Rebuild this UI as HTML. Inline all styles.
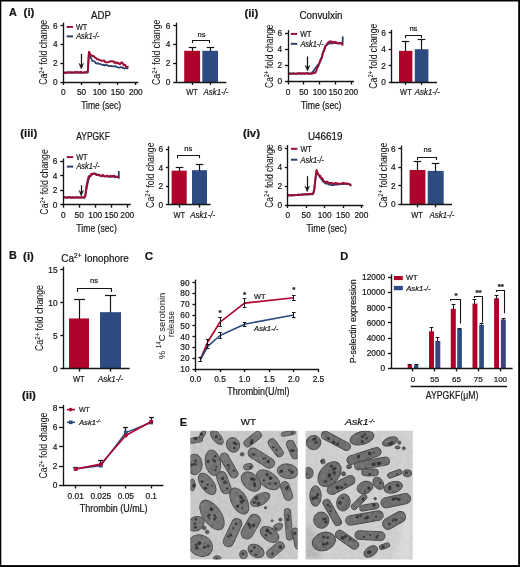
<!DOCTYPE html>
<html><head><meta charset="utf-8"><style>
html,body{margin:0;padding:0;background:#fff;}
body{width:520px;height:567px;overflow:hidden;}
svg{display:block;will-change:transform;font-family:"Liberation Sans", sans-serif;}
text{stroke:#161616;stroke-width:0.2px;}
</style></head><body>
<svg width="520" height="567" viewBox="0 0 520 567" fill="#161616">
<rect x="0" y="0" width="520" height="567" fill="#fff"/>
<text x="9.00" y="15.50" font-size="10.8" font-weight="bold">A</text>
<text x="23.60" y="16.20" font-size="11.4" font-weight="bold">(i)</text>
<text x="91.00" y="18.70" font-size="10.0" textLength="19.80" lengthAdjust="spacingAndGlyphs">ADP</text>
<text x="244.40" y="16.60" font-size="11.4" font-weight="bold">(ii)</text>
<text x="299.40" y="18.60" font-size="10.0" textLength="43.20" lengthAdjust="spacingAndGlyphs">Convulxin</text>
<text x="20.20" y="137.20" font-size="11.4" font-weight="bold">(iii)</text>
<text x="76.30" y="139.50" font-size="10.0" textLength="33.60" lengthAdjust="spacingAndGlyphs">AYPGKF</text>
<text x="242.90" y="137.20" font-size="11.4" font-weight="bold">(iv)</text>
<text x="307.90" y="139.50" font-size="10.0" textLength="34.60" lengthAdjust="spacingAndGlyphs">U46619</text>
<polyline points="63.40,72.59 64.56,72.69 65.71,72.69 66.87,72.41 68.03,72.34 69.19,72.53 70.34,72.48 71.50,72.77 72.66,72.70 73.81,72.65 74.97,72.63 76.13,72.69 77.29,72.41 78.44,72.57 79.60,72.42 80.76,72.82 81.91,72.36 83.07,72.77 84.23,72.37 85.39,72.70 86.54,72.51 87.70,72.55 88.86,52.78 90.01,56.30 91.17,58.31 92.33,60.84 93.48,61.12 94.64,61.37 95.80,63.20 96.96,63.66 98.11,63.12 99.27,63.95 100.43,64.07 101.58,64.52 102.74,65.07 103.90,64.70 105.06,65.51 106.21,64.92 107.37,65.22 108.53,66.15 109.68,65.80 110.84,65.97 112.00,66.33 113.16,66.34 114.31,66.37 115.47,66.06 116.63,67.01 117.78,67.41 118.94,67.53 120.10,67.26 121.26,67.07 122.41,67.43 123.57,68.18 124.73,68.51 125.88,68.03 127.04,68.32 128.20,68.06" fill="none" stroke="#2a4371" stroke-width="1.8" stroke-linejoin="round" />
<polyline points="63.40,72.55 64.56,72.64 65.73,72.98 66.89,72.50 68.05,72.52 69.22,72.58 70.38,72.15 71.55,72.46 72.71,72.55 73.87,72.69 75.04,71.98 76.20,72.16 77.36,71.93 78.53,72.62 79.69,72.48 80.85,71.81 82.02,72.72 83.18,72.68 84.34,72.35 85.51,72.29 86.67,71.82 87.84,71.65 89.00,51.80 90.16,54.17 91.33,55.27 92.49,56.10 93.65,56.09 94.82,57.50 95.98,57.90 97.14,59.36 98.31,59.23 99.47,60.08 100.63,60.35 101.80,60.91 102.96,60.63 104.12,60.42 105.29,62.18 106.45,62.35 107.62,62.17 108.78,62.03 109.94,61.32 111.11,61.28 112.27,61.56 113.43,61.23 114.60,62.92 115.76,62.27 116.92,63.41 118.09,62.56 119.25,63.97 120.41,63.89 121.58,62.32 122.74,63.19 123.91,65.15 125.07,64.68 126.23,67.07 127.40,66.88 128.56,66.77" fill="none" stroke="#9c0e34" stroke-width="2.0" stroke-linejoin="round" />
<line x1="63.50" y1="22.60" x2="63.50" y2="82.60" stroke="#161616" stroke-width="1.35" stroke-linecap="butt"/>
<line x1="60.40" y1="82.50" x2="63.40" y2="82.50" stroke="#161616" stroke-width="1.35" stroke-linecap="butt"/>
<text x="57.60" y="84.91" font-size="8.3" text-anchor="end">0</text>
<line x1="60.40" y1="63.50" x2="63.40" y2="63.50" stroke="#161616" stroke-width="1.35" stroke-linecap="butt"/>
<text x="57.60" y="66.11" font-size="8.3" text-anchor="end">2</text>
<line x1="60.40" y1="44.50" x2="63.40" y2="44.50" stroke="#161616" stroke-width="1.35" stroke-linecap="butt"/>
<text x="57.60" y="47.30" font-size="8.3" text-anchor="end">4</text>
<line x1="60.40" y1="25.50" x2="63.40" y2="25.50" stroke="#161616" stroke-width="1.35" stroke-linecap="butt"/>
<text x="57.60" y="28.50" font-size="8.3" text-anchor="end">6</text>
<line x1="62.80" y1="82.50" x2="138.40" y2="82.50" stroke="#161616" stroke-width="1.35" stroke-linecap="butt"/>
<line x1="63.50" y1="82.00" x2="63.50" y2="85.00" stroke="#161616" stroke-width="1.35" stroke-linecap="butt"/>
<text x="63.40" y="95.10" font-size="8.3" text-anchor="middle">0</text>
<line x1="81.50" y1="82.00" x2="81.50" y2="85.00" stroke="#161616" stroke-width="1.35" stroke-linecap="butt"/>
<text x="81.50" y="95.10" font-size="8.3" text-anchor="middle">50</text>
<line x1="99.50" y1="82.00" x2="99.50" y2="85.00" stroke="#161616" stroke-width="1.35" stroke-linecap="butt"/>
<text x="99.60" y="95.10" font-size="8.3" text-anchor="middle">100</text>
<line x1="117.50" y1="82.00" x2="117.50" y2="85.00" stroke="#161616" stroke-width="1.35" stroke-linecap="butt"/>
<text x="117.70" y="95.10" font-size="8.3" text-anchor="middle">150</text>
<line x1="135.50" y1="82.00" x2="135.50" y2="85.00" stroke="#161616" stroke-width="1.35" stroke-linecap="butt"/>
<text x="135.80" y="95.10" font-size="8.3" text-anchor="middle">200</text>
<line x1="66.60" y1="26.90" x2="73.00" y2="26.90" stroke="#9c0e34" stroke-width="2.0" stroke-linecap="butt"/>
<line x1="66.60" y1="36.40" x2="73.00" y2="36.40" stroke="#2a4371" stroke-width="2.0" stroke-linecap="butt"/>
<text x="76.00" y="29.70" font-size="8.3" textLength="11.20" lengthAdjust="spacingAndGlyphs">WT</text>
<text x="76.20" y="39.20" font-size="8.3" font-style="italic" textLength="23.40" lengthAdjust="spacingAndGlyphs">Ask1-/-</text>
<line x1="81.50" y1="54.00" x2="81.50" y2="66.00" stroke="#161616" stroke-width="1.25" stroke-linecap="butt"/>
<path d="M79.00,63.40 L81.30,69.00 L83.60,63.40 L81.30,65.40 Z" fill="#161616" stroke="#161616" stroke-width="0.5"/>
<text x="81.20" y="109.20" font-size="10.4" textLength="40.00" lengthAdjust="spacingAndGlyphs">Time (sec)</text>
<text x="47.20" y="52.30" font-size="10.0" text-anchor="middle" textLength="64.80" lengthAdjust="spacingAndGlyphs" transform="rotate(-90 47.20 52.30)" style="stroke-width:0.05px">Ca<tspan font-size="6.80" dy="-3.60">2+</tspan><tspan dy="3.60"> fold change</tspan></text>
<polyline points="288.00,73.88 289.16,73.50 290.33,73.43 291.49,73.86 292.65,73.48 293.82,73.44 294.98,73.67 296.14,73.52 297.31,73.75 298.47,73.44 299.63,73.76 300.79,73.46 301.96,73.57 303.12,73.71 304.28,73.59 305.45,73.68 306.61,73.57 307.77,73.26 308.94,73.63 310.10,73.48 311.26,73.35 312.43,71.96 313.59,70.96 314.75,68.94 315.92,67.44 317.08,65.79 318.24,64.79 319.41,63.20 320.57,60.66 321.73,57.41 322.89,53.09 324.06,49.89 325.22,45.97 326.38,45.32 327.55,44.42 328.71,43.82 329.87,43.01 331.04,43.49 332.20,43.34 333.36,42.85 334.53,42.72 335.69,43.20 336.85,42.70 338.02,43.59 339.18,43.24 340.34,43.37 341.50,43.39 342.67,43.73 342.73,37.11 342.79,38.73" fill="none" stroke="#2a4371" stroke-width="1.8" stroke-linejoin="round" />
<polyline points="288.00,73.40 289.17,73.82 290.33,73.76 291.50,73.62 292.66,73.40 293.83,73.86 295.00,73.86 296.16,73.61 297.33,73.59 298.49,73.36 299.66,73.16 300.82,73.45 301.99,73.61 303.16,73.18 304.32,73.76 305.49,73.30 306.65,73.29 307.82,73.12 308.99,73.88 310.15,73.66 311.32,73.76 312.48,73.54 313.65,73.06 314.81,73.03 315.98,71.75 317.15,67.90 318.31,66.24 319.48,62.50 320.64,59.44 321.81,57.64 322.98,52.57 324.14,50.50 325.31,46.67 326.47,44.98 327.64,43.11 328.80,41.93 329.97,41.47 331.14,41.27 332.30,42.83 333.47,41.77 334.63,42.82 335.80,41.86 336.97,43.32 338.13,43.26 339.30,43.10 340.46,43.19 341.63,43.08 342.79,45.60" fill="none" stroke="#9c0e34" stroke-width="2.0" stroke-linejoin="round" />
<line x1="288.50" y1="30.08" x2="288.50" y2="82.10" stroke="#161616" stroke-width="1.35" stroke-linecap="butt"/>
<line x1="285.00" y1="81.50" x2="288.00" y2="81.50" stroke="#161616" stroke-width="1.35" stroke-linecap="butt"/>
<text x="282.20" y="84.41" font-size="8.3" text-anchor="end">0</text>
<line x1="285.00" y1="65.50" x2="288.00" y2="65.50" stroke="#161616" stroke-width="1.35" stroke-linecap="butt"/>
<text x="282.20" y="68.27" font-size="8.3" text-anchor="end">2</text>
<line x1="285.00" y1="49.50" x2="288.00" y2="49.50" stroke="#161616" stroke-width="1.35" stroke-linecap="butt"/>
<text x="282.20" y="52.12" font-size="8.3" text-anchor="end">4</text>
<line x1="285.00" y1="33.50" x2="288.00" y2="33.50" stroke="#161616" stroke-width="1.35" stroke-linecap="butt"/>
<text x="282.20" y="35.98" font-size="8.3" text-anchor="end">6</text>
<line x1="287.40" y1="81.50" x2="354.00" y2="81.50" stroke="#161616" stroke-width="1.35" stroke-linecap="butt"/>
<line x1="288.50" y1="81.50" x2="288.50" y2="84.50" stroke="#161616" stroke-width="1.35" stroke-linecap="butt"/>
<text x="288.00" y="94.60" font-size="8.3" text-anchor="middle">0</text>
<line x1="303.50" y1="81.50" x2="303.50" y2="84.50" stroke="#161616" stroke-width="1.35" stroke-linecap="butt"/>
<text x="303.80" y="94.60" font-size="8.3" text-anchor="middle">50</text>
<line x1="319.50" y1="81.50" x2="319.50" y2="84.50" stroke="#161616" stroke-width="1.35" stroke-linecap="butt"/>
<text x="319.60" y="94.60" font-size="8.3" text-anchor="middle">100</text>
<line x1="335.50" y1="81.50" x2="335.50" y2="84.50" stroke="#161616" stroke-width="1.35" stroke-linecap="butt"/>
<text x="335.40" y="94.60" font-size="8.3" text-anchor="middle">150</text>
<line x1="351.50" y1="81.50" x2="351.50" y2="84.50" stroke="#161616" stroke-width="1.35" stroke-linecap="butt"/>
<text x="351.20" y="94.60" font-size="8.3" text-anchor="middle">200</text>
<line x1="290.80" y1="33.90" x2="297.20" y2="33.90" stroke="#9c0e34" stroke-width="2.0" stroke-linecap="butt"/>
<line x1="290.80" y1="43.80" x2="297.20" y2="43.80" stroke="#2a4371" stroke-width="2.0" stroke-linecap="butt"/>
<text x="300.20" y="36.70" font-size="8.3" textLength="11.20" lengthAdjust="spacingAndGlyphs">WT</text>
<text x="300.40" y="46.60" font-size="8.3" font-style="italic" textLength="23.40" lengthAdjust="spacingAndGlyphs">Ask1-/-</text>
<line x1="307.50" y1="56.50" x2="307.50" y2="68.00" stroke="#161616" stroke-width="1.25" stroke-linecap="butt"/>
<path d="M305.20,65.40 L307.50,71.00 L309.80,65.40 L307.50,67.40 Z" fill="#161616" stroke="#161616" stroke-width="0.5"/>
<text x="300.90" y="108.90" font-size="10.4" textLength="40.60" lengthAdjust="spacingAndGlyphs">Time (sec)</text>
<text x="272.60" y="56.20" font-size="10.0" text-anchor="middle" textLength="63.50" lengthAdjust="spacingAndGlyphs" transform="rotate(-90 272.60 56.20)" style="stroke-width:0.05px">Ca<tspan font-size="6.80" dy="-3.60">2+</tspan><tspan dy="3.60"> fold change</tspan></text>
<polyline points="63.20,197.31 64.36,197.37 65.51,197.41 66.67,197.68 67.83,197.50 68.98,197.60 70.14,197.32 71.30,197.50 72.45,197.65 73.61,197.51 74.77,197.70 75.92,197.67 77.08,197.44 78.24,197.28 79.39,197.61 80.55,197.33 81.71,197.28 82.86,197.60 84.02,197.65 85.18,196.59 86.33,189.95 87.49,183.96 88.65,179.00 89.80,176.85 90.96,175.92 92.12,174.18 93.27,173.83 94.43,173.30 95.59,173.77 96.74,174.30 97.90,175.16 99.06,175.26 100.21,175.51 101.37,176.24 102.53,175.58 103.68,176.33 104.84,176.36 106.00,176.29 107.15,176.40 108.31,176.68 109.47,176.59 110.62,176.33 111.78,176.52 112.94,176.53 114.09,176.78 115.25,177.46 116.41,176.91 117.56,176.55 118.72,176.96 118.78,171.58 118.88,178.78" fill="none" stroke="#2a4371" stroke-width="1.8" stroke-linejoin="round" />
<polyline points="63.20,197.15 64.36,197.22 65.52,197.42 66.68,197.63 67.84,197.24 69.00,197.22 70.16,197.31 71.32,197.69 72.48,197.25 73.64,197.67 74.80,197.62 75.96,197.24 77.12,197.53 78.28,197.46 79.44,197.44 80.60,197.86 81.76,197.21 82.92,197.15 84.08,197.82 85.24,196.14 86.40,186.74 87.56,180.83 88.72,176.22 89.88,176.30 91.04,174.24 92.20,173.72 93.36,173.92 94.52,173.47 95.68,174.63 96.84,174.99 98.00,174.76 99.16,174.77 100.32,175.89 101.48,176.24 102.64,174.81 103.80,176.04 104.96,176.36 106.12,176.12 107.28,175.52 108.44,176.54 109.60,176.52 110.76,175.76 111.92,176.57 113.08,175.99 114.24,175.80 115.40,176.37 116.56,176.65 117.72,177.04 118.88,176.85" fill="none" stroke="#9c0e34" stroke-width="2.0" stroke-linejoin="round" />
<line x1="63.50" y1="158.50" x2="63.50" y2="205.30" stroke="#161616" stroke-width="1.35" stroke-linecap="butt"/>
<line x1="60.20" y1="204.50" x2="63.20" y2="204.50" stroke="#161616" stroke-width="1.35" stroke-linecap="butt"/>
<text x="57.40" y="207.60" font-size="8.3" text-anchor="end">0</text>
<line x1="60.20" y1="190.50" x2="63.20" y2="190.50" stroke="#161616" stroke-width="1.35" stroke-linecap="butt"/>
<text x="57.40" y="193.20" font-size="8.3" text-anchor="end">2</text>
<line x1="60.20" y1="175.50" x2="63.20" y2="175.50" stroke="#161616" stroke-width="1.35" stroke-linecap="butt"/>
<text x="57.40" y="178.80" font-size="8.3" text-anchor="end">4</text>
<line x1="60.20" y1="161.50" x2="63.20" y2="161.50" stroke="#161616" stroke-width="1.35" stroke-linecap="butt"/>
<text x="57.40" y="164.41" font-size="8.3" text-anchor="end">6</text>
<line x1="62.60" y1="204.50" x2="130.80" y2="204.50" stroke="#161616" stroke-width="1.35" stroke-linecap="butt"/>
<line x1="63.50" y1="204.70" x2="63.50" y2="207.70" stroke="#161616" stroke-width="1.35" stroke-linecap="butt"/>
<text x="63.20" y="217.80" font-size="8.3" text-anchor="middle">0</text>
<line x1="79.50" y1="204.70" x2="79.50" y2="207.70" stroke="#161616" stroke-width="1.35" stroke-linecap="butt"/>
<text x="79.20" y="217.80" font-size="8.3" text-anchor="middle">50</text>
<line x1="95.50" y1="204.70" x2="95.50" y2="207.70" stroke="#161616" stroke-width="1.35" stroke-linecap="butt"/>
<text x="95.20" y="217.80" font-size="8.3" text-anchor="middle">100</text>
<line x1="111.50" y1="204.70" x2="111.50" y2="207.70" stroke="#161616" stroke-width="1.35" stroke-linecap="butt"/>
<text x="111.20" y="217.80" font-size="8.3" text-anchor="middle">150</text>
<line x1="127.50" y1="204.70" x2="127.50" y2="207.70" stroke="#161616" stroke-width="1.35" stroke-linecap="butt"/>
<text x="127.20" y="217.80" font-size="8.3" text-anchor="middle">200</text>
<line x1="66.80" y1="157.10" x2="73.20" y2="157.10" stroke="#9c0e34" stroke-width="2.0" stroke-linecap="butt"/>
<line x1="66.80" y1="166.60" x2="73.20" y2="166.60" stroke="#2a4371" stroke-width="2.0" stroke-linecap="butt"/>
<text x="76.20" y="159.90" font-size="8.3" textLength="11.20" lengthAdjust="spacingAndGlyphs">WT</text>
<text x="76.40" y="169.40" font-size="8.3" font-style="italic" textLength="23.40" lengthAdjust="spacingAndGlyphs">Ask1-/-</text>
<line x1="81.50" y1="185.30" x2="81.50" y2="193.00" stroke="#161616" stroke-width="1.25" stroke-linecap="butt"/>
<path d="M78.95,190.40 L81.25,196.00 L83.55,190.40 L81.25,192.40 Z" fill="#161616" stroke="#161616" stroke-width="0.5"/>
<text x="76.30" y="231.60" font-size="10.4" textLength="40.50" lengthAdjust="spacingAndGlyphs">Time (sec)</text>
<text x="48.30" y="181.90" font-size="10.0" text-anchor="middle" textLength="65.50" lengthAdjust="spacingAndGlyphs" transform="rotate(-90 48.30 181.90)" style="stroke-width:0.05px">Ca<tspan font-size="6.80" dy="-3.60">2+</tspan><tspan dy="3.60"> fold change</tspan></text>
<polyline points="287.80,195.56 288.95,195.22 290.10,195.27 291.25,195.18 292.40,195.35 293.55,195.26 294.71,195.29 295.86,194.87 297.01,194.96 298.16,194.72 299.31,194.74 300.46,194.80 301.61,194.52 302.76,194.54 303.91,194.68 305.06,194.57 306.21,194.36 307.36,194.46 308.52,194.49 309.67,194.07 310.82,194.36 311.97,194.25 313.12,194.03 314.27,189.14 315.42,179.26 316.57,171.28 317.72,173.62 318.87,175.30 320.02,177.46 321.17,178.72 322.33,180.45 323.48,181.90 324.63,182.84 325.78,183.65 326.93,183.42 328.08,183.97 329.23,184.62 330.38,184.72 331.53,185.06 332.68,184.87 333.83,185.10 334.98,184.54 336.14,184.71 337.29,184.63 338.44,184.27 339.59,184.27 340.74,183.99 341.89,184.02 343.04,184.23 344.19,183.88 345.34,183.80 346.49,183.56 347.64,183.53 348.79,184.12 349.95,184.08 351.10,185.16" fill="none" stroke="#2a4371" stroke-width="1.8" stroke-linejoin="round" />
<polyline points="287.80,195.43 288.95,195.25 290.10,195.14 291.25,195.53 292.40,195.24 293.55,195.24 294.71,195.08 295.86,194.89 297.01,195.03 298.16,194.86 299.31,194.91 300.46,194.76 301.61,194.80 302.76,194.47 303.91,194.21 305.06,194.13 306.21,194.42 307.36,193.99 308.52,194.22 309.67,194.12 310.82,193.69 311.97,194.07 313.12,193.53 314.27,189.86 315.42,178.68 316.57,170.10 317.72,173.40 318.87,175.08 320.02,175.64 321.17,177.80 322.33,178.42 323.48,180.92 324.63,181.64 325.78,182.42 326.93,181.50 328.08,182.24 329.23,183.03 330.38,183.31 331.53,182.78 332.68,183.83 333.83,183.83 334.98,183.12 336.14,182.96 337.29,183.75 338.44,183.45 339.59,183.85 340.74,183.62 341.89,183.48 343.04,182.96 344.19,183.11 345.34,183.57 346.49,183.94 347.64,183.52 348.79,184.23 349.95,184.47 351.10,186.06" fill="none" stroke="#9c0e34" stroke-width="2.0" stroke-linejoin="round" />
<line x1="287.50" y1="145.00" x2="287.50" y2="205.60" stroke="#161616" stroke-width="1.35" stroke-linecap="butt"/>
<line x1="284.80" y1="205.50" x2="287.80" y2="205.50" stroke="#161616" stroke-width="1.35" stroke-linecap="butt"/>
<text x="282.00" y="207.91" font-size="8.3" text-anchor="end">0</text>
<line x1="284.80" y1="186.50" x2="287.80" y2="186.50" stroke="#161616" stroke-width="1.35" stroke-linecap="butt"/>
<text x="282.00" y="188.91" font-size="8.3" text-anchor="end">2</text>
<line x1="284.80" y1="167.50" x2="287.80" y2="167.50" stroke="#161616" stroke-width="1.35" stroke-linecap="butt"/>
<text x="282.00" y="169.91" font-size="8.3" text-anchor="end">4</text>
<line x1="284.80" y1="148.50" x2="287.80" y2="148.50" stroke="#161616" stroke-width="1.35" stroke-linecap="butt"/>
<text x="282.00" y="150.91" font-size="8.3" text-anchor="end">6</text>
<line x1="287.20" y1="205.50" x2="363.40" y2="205.50" stroke="#161616" stroke-width="1.35" stroke-linecap="butt"/>
<line x1="287.50" y1="205.00" x2="287.50" y2="208.00" stroke="#161616" stroke-width="1.35" stroke-linecap="butt"/>
<text x="287.80" y="218.10" font-size="8.3" text-anchor="middle">0</text>
<line x1="306.50" y1="205.00" x2="306.50" y2="208.00" stroke="#161616" stroke-width="1.35" stroke-linecap="butt"/>
<text x="306.20" y="218.10" font-size="8.3" text-anchor="middle">50</text>
<line x1="324.50" y1="205.00" x2="324.50" y2="208.00" stroke="#161616" stroke-width="1.35" stroke-linecap="butt"/>
<text x="324.60" y="218.10" font-size="8.3" text-anchor="middle">100</text>
<line x1="343.50" y1="205.00" x2="343.50" y2="208.00" stroke="#161616" stroke-width="1.35" stroke-linecap="butt"/>
<text x="343.00" y="218.10" font-size="8.3" text-anchor="middle">150</text>
<line x1="361.50" y1="205.00" x2="361.50" y2="208.00" stroke="#161616" stroke-width="1.35" stroke-linecap="butt"/>
<text x="361.40" y="218.10" font-size="8.3" text-anchor="middle">200</text>
<line x1="291.00" y1="148.80" x2="297.40" y2="148.80" stroke="#9c0e34" stroke-width="2.0" stroke-linecap="butt"/>
<line x1="291.00" y1="159.70" x2="297.40" y2="159.70" stroke="#2a4371" stroke-width="2.0" stroke-linecap="butt"/>
<text x="300.40" y="151.60" font-size="8.3" textLength="11.20" lengthAdjust="spacingAndGlyphs">WT</text>
<text x="300.60" y="162.50" font-size="8.3" font-style="italic" textLength="23.40" lengthAdjust="spacingAndGlyphs">Ask1-/-</text>
<line x1="307.50" y1="176.20" x2="307.50" y2="188.70" stroke="#161616" stroke-width="1.25" stroke-linecap="butt"/>
<path d="M304.90,186.10 L307.20,191.70 L309.50,186.10 L307.20,188.10 Z" fill="#161616" stroke="#161616" stroke-width="0.5"/>
<text x="306.40" y="231.60" font-size="10.4" textLength="40.40" lengthAdjust="spacingAndGlyphs">Time (sec)</text>
<text x="272.80" y="176.00" font-size="10.0" text-anchor="middle" textLength="63.50" lengthAdjust="spacingAndGlyphs" transform="rotate(-90 272.80 176.00)" style="stroke-width:0.05px">Ca<tspan font-size="6.80" dy="-3.60">2+</tspan><tspan dy="3.60"> fold change</tspan></text>
<rect x="184.20" y="50.79" width="15.90" height="31.21" fill="#b0032c"/>
<line x1="192.50" y1="51.29" x2="192.50" y2="47.41" stroke="#161616" stroke-width="1.2" stroke-linecap="butt"/>
<line x1="188.70" y1="47.50" x2="196.30" y2="47.50" stroke="#161616" stroke-width="1.2" stroke-linecap="butt"/>
<rect x="202.30" y="50.79" width="15.70" height="31.21" fill="#2d4b80"/>
<line x1="210.50" y1="51.29" x2="210.50" y2="47.60" stroke="#161616" stroke-width="1.2" stroke-linecap="butt"/>
<line x1="206.70" y1="47.50" x2="214.30" y2="47.50" stroke="#161616" stroke-width="1.2" stroke-linecap="butt"/>
<line x1="176.50" y1="22.60" x2="176.50" y2="82.60" stroke="#161616" stroke-width="1.35" stroke-linecap="butt"/>
<line x1="173.20" y1="82.50" x2="176.20" y2="82.50" stroke="#161616" stroke-width="1.35" stroke-linecap="butt"/>
<text x="170.40" y="84.91" font-size="8.3" text-anchor="end">0</text>
<line x1="173.20" y1="63.50" x2="176.20" y2="63.50" stroke="#161616" stroke-width="1.35" stroke-linecap="butt"/>
<text x="170.40" y="66.11" font-size="8.3" text-anchor="end">2</text>
<line x1="173.20" y1="44.50" x2="176.20" y2="44.50" stroke="#161616" stroke-width="1.35" stroke-linecap="butt"/>
<text x="170.40" y="47.30" font-size="8.3" text-anchor="end">4</text>
<line x1="173.20" y1="25.50" x2="176.20" y2="25.50" stroke="#161616" stroke-width="1.35" stroke-linecap="butt"/>
<text x="170.40" y="28.50" font-size="8.3" text-anchor="end">6</text>
<line x1="175.60" y1="82.50" x2="226.30" y2="82.50" stroke="#161616" stroke-width="1.35" stroke-linecap="butt"/>
<line x1="192.50" y1="82.00" x2="192.50" y2="85.00" stroke="#161616" stroke-width="1.35" stroke-linecap="butt"/>
<line x1="210.50" y1="82.00" x2="210.50" y2="85.00" stroke="#161616" stroke-width="1.35" stroke-linecap="butt"/>
<path d="M192.50,42.90 L192.50,40.50 L209.50,40.50 L209.50,42.90" fill="none" stroke="#161616" stroke-width="1.1"/>
<text x="201.60" y="37.00" font-size="7.6" text-anchor="middle">ns</text>
<text x="192.00" y="95.20" font-size="8.4" text-anchor="middle" textLength="11.60" lengthAdjust="spacingAndGlyphs">WT</text>
<text x="216.00" y="95.20" font-size="8.4" text-anchor="middle" font-style="italic" textLength="25.00" lengthAdjust="spacingAndGlyphs">Ask1-/-</text>
<text x="160.40" y="52.30" font-size="10.0" text-anchor="middle" textLength="65.40" lengthAdjust="spacingAndGlyphs" transform="rotate(-90 160.40 52.30)" style="stroke-width:0.05px">Ca<tspan font-size="6.80" dy="-3.60">2+</tspan><tspan dy="3.60"> fold change</tspan></text>
<rect x="399.00" y="50.84" width="13.40" height="31.16" fill="#b0032c"/>
<line x1="405.50" y1="51.34" x2="405.50" y2="41.00" stroke="#161616" stroke-width="1.2" stroke-linecap="butt"/>
<line x1="401.70" y1="41.50" x2="409.30" y2="41.50" stroke="#161616" stroke-width="1.2" stroke-linecap="butt"/>
<rect x="414.80" y="49.20" width="13.60" height="32.80" fill="#2d4b80"/>
<line x1="421.50" y1="49.70" x2="421.50" y2="39.36" stroke="#161616" stroke-width="1.2" stroke-linecap="butt"/>
<line x1="417.70" y1="39.50" x2="425.30" y2="39.50" stroke="#161616" stroke-width="1.2" stroke-linecap="butt"/>
<line x1="391.50" y1="29.80" x2="391.50" y2="82.60" stroke="#161616" stroke-width="1.35" stroke-linecap="butt"/>
<line x1="388.70" y1="82.50" x2="391.70" y2="82.50" stroke="#161616" stroke-width="1.35" stroke-linecap="butt"/>
<text x="385.90" y="84.91" font-size="8.3" text-anchor="end">0</text>
<line x1="388.70" y1="65.50" x2="391.70" y2="65.50" stroke="#161616" stroke-width="1.35" stroke-linecap="butt"/>
<text x="385.90" y="68.50" font-size="8.3" text-anchor="end">2</text>
<line x1="388.70" y1="49.50" x2="391.70" y2="49.50" stroke="#161616" stroke-width="1.35" stroke-linecap="butt"/>
<text x="385.90" y="52.11" font-size="8.3" text-anchor="end">4</text>
<line x1="388.70" y1="32.50" x2="391.70" y2="32.50" stroke="#161616" stroke-width="1.35" stroke-linecap="butt"/>
<text x="385.90" y="35.71" font-size="8.3" text-anchor="end">6</text>
<line x1="391.10" y1="82.50" x2="437.00" y2="82.50" stroke="#161616" stroke-width="1.35" stroke-linecap="butt"/>
<line x1="405.50" y1="82.00" x2="405.50" y2="85.00" stroke="#161616" stroke-width="1.35" stroke-linecap="butt"/>
<line x1="421.50" y1="82.00" x2="421.50" y2="85.00" stroke="#161616" stroke-width="1.35" stroke-linecap="butt"/>
<path d="M405.50,37.90 L405.50,35.50 L421.50,35.50 L421.50,37.90" fill="none" stroke="#161616" stroke-width="1.1"/>
<text x="413.40" y="31.00" font-size="7.6" text-anchor="middle">ns</text>
<text x="405.90" y="95.00" font-size="8.4" text-anchor="middle" textLength="11.60" lengthAdjust="spacingAndGlyphs">WT</text>
<text x="427.30" y="95.00" font-size="8.4" text-anchor="middle" font-style="italic" textLength="25.00" lengthAdjust="spacingAndGlyphs">Ask1-/-</text>
<text x="377.00" y="56.20" font-size="10.0" text-anchor="middle" textLength="65.00" lengthAdjust="spacingAndGlyphs" transform="rotate(-90 377.00 56.20)" style="stroke-width:0.05px">Ca<tspan font-size="6.80" dy="-3.60">2+</tspan><tspan dy="3.60"> fold change</tspan></text>
<rect x="171.60" y="170.65" width="15.10" height="33.95" fill="#b0032c"/>
<line x1="179.50" y1="171.15" x2="179.50" y2="167.60" stroke="#161616" stroke-width="1.2" stroke-linecap="butt"/>
<line x1="175.70" y1="167.50" x2="183.30" y2="167.50" stroke="#161616" stroke-width="1.2" stroke-linecap="butt"/>
<rect x="192.00" y="170.19" width="15.00" height="34.41" fill="#2d4b80"/>
<line x1="199.50" y1="170.69" x2="199.50" y2="164.18" stroke="#161616" stroke-width="1.2" stroke-linecap="butt"/>
<line x1="195.70" y1="164.50" x2="203.30" y2="164.50" stroke="#161616" stroke-width="1.2" stroke-linecap="butt"/>
<line x1="168.50" y1="146.10" x2="168.50" y2="205.20" stroke="#161616" stroke-width="1.35" stroke-linecap="butt"/>
<line x1="165.90" y1="204.50" x2="168.90" y2="204.50" stroke="#161616" stroke-width="1.35" stroke-linecap="butt"/>
<text x="163.10" y="207.50" font-size="8.3" text-anchor="end">0</text>
<line x1="165.90" y1="186.50" x2="168.90" y2="186.50" stroke="#161616" stroke-width="1.35" stroke-linecap="butt"/>
<text x="163.10" y="189.00" font-size="8.3" text-anchor="end">2</text>
<line x1="165.90" y1="167.50" x2="168.90" y2="167.50" stroke="#161616" stroke-width="1.35" stroke-linecap="butt"/>
<text x="163.10" y="170.50" font-size="8.3" text-anchor="end">4</text>
<line x1="165.90" y1="149.50" x2="168.90" y2="149.50" stroke="#161616" stroke-width="1.35" stroke-linecap="butt"/>
<text x="163.10" y="152.00" font-size="8.3" text-anchor="end">6</text>
<line x1="168.30" y1="204.50" x2="210.50" y2="204.50" stroke="#161616" stroke-width="1.35" stroke-linecap="butt"/>
<line x1="179.50" y1="204.60" x2="179.50" y2="207.60" stroke="#161616" stroke-width="1.35" stroke-linecap="butt"/>
<line x1="199.50" y1="204.60" x2="199.50" y2="207.60" stroke="#161616" stroke-width="1.35" stroke-linecap="butt"/>
<path d="M177.50,158.30 L177.50,155.50 L199.50,155.50 L199.50,158.30" fill="none" stroke="#161616" stroke-width="1.1"/>
<text x="188.20" y="151.00" font-size="7.6" text-anchor="middle">ns</text>
<text x="179.20" y="218.10" font-size="8.4" text-anchor="middle" textLength="11.60" lengthAdjust="spacingAndGlyphs">WT</text>
<text x="202.70" y="218.10" font-size="8.4" text-anchor="middle" font-style="italic" textLength="25.00" lengthAdjust="spacingAndGlyphs">Ask1-/-</text>
<text x="153.60" y="175.20" font-size="10.0" text-anchor="middle" textLength="65.40" lengthAdjust="spacingAndGlyphs" transform="rotate(-90 153.60 175.20)" style="stroke-width:0.05px">Ca<tspan font-size="6.80" dy="-3.60">2+</tspan><tspan dy="3.60"> fold change</tspan></text>
<rect x="409.60" y="169.99" width="15.80" height="34.41" fill="#b0032c"/>
<line x1="417.50" y1="170.49" x2="417.50" y2="161.62" stroke="#161616" stroke-width="1.2" stroke-linecap="butt"/>
<line x1="413.70" y1="161.50" x2="421.30" y2="161.50" stroke="#161616" stroke-width="1.2" stroke-linecap="butt"/>
<rect x="427.70" y="170.92" width="16.00" height="33.48" fill="#2d4b80"/>
<line x1="435.50" y1="171.42" x2="435.50" y2="163.01" stroke="#161616" stroke-width="1.2" stroke-linecap="butt"/>
<line x1="431.70" y1="163.50" x2="439.30" y2="163.50" stroke="#161616" stroke-width="1.2" stroke-linecap="butt"/>
<line x1="401.50" y1="145.60" x2="401.50" y2="205.00" stroke="#161616" stroke-width="1.35" stroke-linecap="butt"/>
<line x1="398.30" y1="204.50" x2="401.30" y2="204.50" stroke="#161616" stroke-width="1.35" stroke-linecap="butt"/>
<text x="395.50" y="207.31" font-size="8.3" text-anchor="end">0</text>
<line x1="398.30" y1="185.50" x2="401.30" y2="185.50" stroke="#161616" stroke-width="1.35" stroke-linecap="butt"/>
<text x="395.50" y="188.71" font-size="8.3" text-anchor="end">2</text>
<line x1="398.30" y1="167.50" x2="401.30" y2="167.50" stroke="#161616" stroke-width="1.35" stroke-linecap="butt"/>
<text x="395.50" y="170.10" font-size="8.3" text-anchor="end">4</text>
<line x1="398.30" y1="148.50" x2="401.30" y2="148.50" stroke="#161616" stroke-width="1.35" stroke-linecap="butt"/>
<text x="395.50" y="151.50" font-size="8.3" text-anchor="end">6</text>
<line x1="400.70" y1="204.50" x2="452.00" y2="204.50" stroke="#161616" stroke-width="1.35" stroke-linecap="butt"/>
<line x1="417.50" y1="204.40" x2="417.50" y2="207.40" stroke="#161616" stroke-width="1.35" stroke-linecap="butt"/>
<line x1="435.50" y1="204.40" x2="435.50" y2="207.40" stroke="#161616" stroke-width="1.35" stroke-linecap="butt"/>
<path d="M417.50,159.90 L417.50,157.50 L436.50,157.50 L436.50,159.90" fill="none" stroke="#161616" stroke-width="1.1"/>
<text x="427.50" y="152.20" font-size="7.6" text-anchor="middle">ns</text>
<text x="417.00" y="217.80" font-size="8.4" text-anchor="middle" textLength="11.60" lengthAdjust="spacingAndGlyphs">WT</text>
<text x="442.00" y="217.80" font-size="8.4" text-anchor="middle" font-style="italic" textLength="25.00" lengthAdjust="spacingAndGlyphs">Ask1-/-</text>
<text x="386.60" y="175.20" font-size="10.0" text-anchor="middle" textLength="65.00" lengthAdjust="spacingAndGlyphs" transform="rotate(-90 386.60 175.20)" style="stroke-width:0.05px">Ca<tspan font-size="6.80" dy="-3.60">2+</tspan><tspan dy="3.60"> fold change</tspan></text>
<text x="8.90" y="259.20" font-size="10.8" font-weight="bold">B</text>
<text x="23.10" y="259.90" font-size="11.4" font-weight="bold">(i)</text>
<text x="61.3" y="262.0" font-size="10.2" textLength="67.6" lengthAdjust="spacingAndGlyphs">Ca<tspan font-size="6.8" dy="-3.6">2+</tspan><tspan dy="3.6"> Ionophore</tspan></text>
<rect x="69.00" y="318.44" width="20.00" height="50.16" fill="#b0032c"/>
<line x1="79.50" y1="318.94" x2="79.50" y2="299.96" stroke="#161616" stroke-width="1.2" stroke-linecap="butt"/>
<line x1="74.00" y1="299.50" x2="85.00" y2="299.50" stroke="#161616" stroke-width="1.2" stroke-linecap="butt"/>
<rect x="100.00" y="312.17" width="21.00" height="56.43" fill="#2d4b80"/>
<line x1="110.50" y1="312.67" x2="110.50" y2="295.34" stroke="#161616" stroke-width="1.2" stroke-linecap="butt"/>
<line x1="105.00" y1="295.50" x2="116.00" y2="295.50" stroke="#161616" stroke-width="1.2" stroke-linecap="butt"/>
<line x1="63.50" y1="266.60" x2="63.50" y2="369.20" stroke="#161616" stroke-width="1.35" stroke-linecap="butt"/>
<line x1="60.30" y1="368.50" x2="63.30" y2="368.50" stroke="#161616" stroke-width="1.35" stroke-linecap="butt"/>
<text x="57.50" y="371.50" font-size="8.3" text-anchor="end">0</text>
<line x1="60.30" y1="335.50" x2="63.30" y2="335.50" stroke="#161616" stroke-width="1.35" stroke-linecap="butt"/>
<text x="57.50" y="338.50" font-size="8.3" text-anchor="end">5</text>
<line x1="60.30" y1="302.50" x2="63.30" y2="302.50" stroke="#161616" stroke-width="1.35" stroke-linecap="butt"/>
<text x="57.50" y="305.50" font-size="8.3" text-anchor="end">10</text>
<line x1="60.30" y1="269.50" x2="63.30" y2="269.50" stroke="#161616" stroke-width="1.35" stroke-linecap="butt"/>
<text x="57.50" y="272.50" font-size="8.3" text-anchor="end">15</text>
<line x1="62.70" y1="368.50" x2="129.70" y2="368.50" stroke="#161616" stroke-width="1.35" stroke-linecap="butt"/>
<line x1="79.50" y1="368.60" x2="79.50" y2="371.60" stroke="#161616" stroke-width="1.35" stroke-linecap="butt"/>
<line x1="110.50" y1="368.60" x2="110.50" y2="371.60" stroke="#161616" stroke-width="1.35" stroke-linecap="butt"/>
<path d="M77.50,292.10 L77.50,288.50 L111.50,288.50 L111.50,292.10" fill="none" stroke="#161616" stroke-width="1.1"/>
<text x="94.00" y="283.20" font-size="7.6" text-anchor="middle">ns</text>
<text x="78.80" y="381.60" font-size="8.4" text-anchor="middle" textLength="11.60" lengthAdjust="spacingAndGlyphs">WT</text>
<text x="110.60" y="381.60" font-size="8.4" text-anchor="middle" font-style="italic" textLength="25.00" lengthAdjust="spacingAndGlyphs">Ask1-/-</text>
<text x="43.40" y="318.00" font-size="10.0" text-anchor="middle" textLength="66.00" lengthAdjust="spacingAndGlyphs" transform="rotate(-90 43.40 318.00)" style="stroke-width:0.05px">Ca<tspan font-size="6.80" dy="-3.60">2+</tspan><tspan dy="3.60"> fold change</tspan></text>
<text x="22.00" y="398.90" font-size="11.4" font-weight="bold">(ii)</text>
<line x1="75.50" y1="468.82" x2="75.50" y2="467.56" stroke="#161616" stroke-width="1.2" stroke-linecap="butt"/>
<line x1="73.10" y1="467.50" x2="77.90" y2="467.50" stroke="#161616" stroke-width="1.2" stroke-linecap="butt"/>
<line x1="100.50" y1="465.62" x2="100.50" y2="460.28" stroke="#161616" stroke-width="1.2" stroke-linecap="butt"/>
<line x1="98.10" y1="460.50" x2="102.90" y2="460.50" stroke="#161616" stroke-width="1.2" stroke-linecap="butt"/>
<line x1="125.50" y1="432.63" x2="125.50" y2="427.79" stroke="#161616" stroke-width="1.2" stroke-linecap="butt"/>
<line x1="123.10" y1="427.50" x2="127.90" y2="427.50" stroke="#161616" stroke-width="1.2" stroke-linecap="butt"/>
<line x1="151.50" y1="422.45" x2="151.50" y2="417.60" stroke="#161616" stroke-width="1.2" stroke-linecap="butt"/>
<line x1="149.10" y1="417.50" x2="153.90" y2="417.50" stroke="#161616" stroke-width="1.2" stroke-linecap="butt"/>
<polyline points="75.70,468.82 100.80,465.62 125.80,432.63 151.20,422.45" fill="none" stroke="#2d4b80" stroke-width="1.6" stroke-linejoin="round" />
<rect x="73.80" y="466.92" width="3.80" height="3.80" fill="#2d4b80"/>
<rect x="98.90" y="463.72" width="3.80" height="3.80" fill="#2d4b80"/>
<rect x="123.90" y="430.74" width="3.80" height="3.80" fill="#2d4b80"/>
<rect x="149.30" y="420.55" width="3.80" height="3.80" fill="#2d4b80"/>
<polyline points="75.70,469.01 100.80,464.16 125.80,435.55 151.20,421.48" fill="none" stroke="#b0032c" stroke-width="1.6" stroke-linejoin="round" />
<circle cx="75.70" cy="469.01" r="1.9" fill="#b0032c"/>
<circle cx="100.80" cy="464.16" r="1.9" fill="#b0032c"/>
<circle cx="125.80" cy="435.55" r="1.9" fill="#b0032c"/>
<circle cx="151.20" cy="421.48" r="1.9" fill="#b0032c"/>
<line x1="63.50" y1="404.90" x2="63.50" y2="486.10" stroke="#161616" stroke-width="1.35" stroke-linecap="butt"/>
<line x1="59.00" y1="485.50" x2="63.60" y2="485.50" stroke="#161616" stroke-width="1.35" stroke-linecap="butt"/>
<text x="57.40" y="488.40" font-size="8.3" text-anchor="end">0</text>
<line x1="59.00" y1="466.50" x2="63.60" y2="466.50" stroke="#161616" stroke-width="1.35" stroke-linecap="butt"/>
<text x="57.40" y="469.00" font-size="8.3" text-anchor="end">2</text>
<line x1="59.00" y1="446.50" x2="63.60" y2="446.50" stroke="#161616" stroke-width="1.35" stroke-linecap="butt"/>
<text x="57.40" y="449.60" font-size="8.3" text-anchor="end">4</text>
<line x1="59.00" y1="427.50" x2="63.60" y2="427.50" stroke="#161616" stroke-width="1.35" stroke-linecap="butt"/>
<text x="57.40" y="430.20" font-size="8.3" text-anchor="end">6</text>
<line x1="59.00" y1="407.50" x2="63.60" y2="407.50" stroke="#161616" stroke-width="1.35" stroke-linecap="butt"/>
<text x="57.40" y="410.80" font-size="8.3" text-anchor="end">8</text>
<line x1="63.00" y1="485.50" x2="163.40" y2="485.50" stroke="#161616" stroke-width="1.35" stroke-linecap="butt"/>
<line x1="75.50" y1="485.50" x2="75.50" y2="488.50" stroke="#161616" stroke-width="1.35" stroke-linecap="butt"/>
<text x="75.70" y="498.90" font-size="8.3" text-anchor="middle">0.01</text>
<line x1="100.50" y1="485.50" x2="100.50" y2="488.50" stroke="#161616" stroke-width="1.35" stroke-linecap="butt"/>
<text x="100.80" y="498.90" font-size="8.3" text-anchor="middle">0.025</text>
<line x1="125.50" y1="485.50" x2="125.50" y2="488.50" stroke="#161616" stroke-width="1.35" stroke-linecap="butt"/>
<text x="125.80" y="498.90" font-size="8.3" text-anchor="middle">0.05</text>
<line x1="151.50" y1="485.50" x2="151.50" y2="488.50" stroke="#161616" stroke-width="1.35" stroke-linecap="butt"/>
<text x="151.20" y="498.90" font-size="8.3" text-anchor="middle">0.1</text>
<text x="79.80" y="511.80" font-size="10.4" textLength="67.80" lengthAdjust="spacingAndGlyphs">Thrombin (U/mL)</text>
<line x1="66.90" y1="409.60" x2="75.00" y2="409.60" stroke="#b0032c" stroke-width="1.6" stroke-linecap="butt"/>
<circle cx="70.6" cy="409.6" r="1.8" fill="#b0032c"/>
<line x1="66.90" y1="422.30" x2="75.00" y2="422.30" stroke="#2d4b80" stroke-width="1.6" stroke-linecap="butt"/>
<rect x="68.90" y="420.50" width="3.60" height="3.60" fill="#2d4b80"/>
<text x="78.90" y="412.40" font-size="7.6" textLength="10.80" lengthAdjust="spacingAndGlyphs">WT</text>
<text x="78.9" y="425.2" font-size="7.6" font-style="italic" textLength="22.0" lengthAdjust="spacingAndGlyphs">Ask1<tspan font-size="5" dy="-2.6">-/-</tspan></text>
<text x="47.40" y="445.50" font-size="10.0" text-anchor="middle" textLength="66.00" lengthAdjust="spacingAndGlyphs" transform="rotate(-90 47.40 445.50)" style="stroke-width:0.05px">Ca<tspan font-size="6.80" dy="-3.60">2+</tspan><tspan dy="3.60"> fold change</tspan></text>
<text x="144.80" y="259.60" font-size="11.6" font-weight="bold">C</text>
<polyline points="200.32,359.28 207.70,346.32 220.00,335.52 244.60,324.18 293.80,315.00" fill="none" stroke="#2d4b80" stroke-width="1.6" stroke-linejoin="round" />
<polyline points="200.32,359.28 207.70,342.00 220.00,322.02 244.60,303.12 293.80,297.72" fill="none" stroke="#b0032c" stroke-width="1.6" stroke-linejoin="round" />
<polyline points="200.32,359.28 207.70,346.32" fill="none" stroke="#2d4b80" stroke-width="1.6" stroke-linejoin="round" />
<line x1="200.50" y1="357.12" x2="200.50" y2="361.44" stroke="#161616" stroke-width="1.0" stroke-linecap="butt"/>
<line x1="198.52" y1="357.50" x2="202.12" y2="357.50" stroke="#161616" stroke-width="1.0" stroke-linecap="butt"/>
<line x1="198.52" y1="361.50" x2="202.12" y2="361.50" stroke="#161616" stroke-width="1.0" stroke-linecap="butt"/>
<line x1="207.50" y1="344.16" x2="207.50" y2="348.48" stroke="#161616" stroke-width="1.0" stroke-linecap="butt"/>
<line x1="205.90" y1="344.50" x2="209.50" y2="344.50" stroke="#161616" stroke-width="1.0" stroke-linecap="butt"/>
<line x1="205.90" y1="348.50" x2="209.50" y2="348.50" stroke="#161616" stroke-width="1.0" stroke-linecap="butt"/>
<line x1="220.50" y1="332.28" x2="220.50" y2="338.76" stroke="#161616" stroke-width="1.0" stroke-linecap="butt"/>
<line x1="218.20" y1="332.50" x2="221.80" y2="332.50" stroke="#161616" stroke-width="1.0" stroke-linecap="butt"/>
<line x1="218.20" y1="338.50" x2="221.80" y2="338.50" stroke="#161616" stroke-width="1.0" stroke-linecap="butt"/>
<line x1="244.50" y1="322.02" x2="244.50" y2="326.34" stroke="#161616" stroke-width="1.0" stroke-linecap="butt"/>
<line x1="242.80" y1="322.50" x2="246.40" y2="322.50" stroke="#161616" stroke-width="1.0" stroke-linecap="butt"/>
<line x1="242.80" y1="326.50" x2="246.40" y2="326.50" stroke="#161616" stroke-width="1.0" stroke-linecap="butt"/>
<line x1="293.50" y1="312.84" x2="293.50" y2="317.16" stroke="#161616" stroke-width="1.0" stroke-linecap="butt"/>
<line x1="292.00" y1="312.50" x2="295.60" y2="312.50" stroke="#161616" stroke-width="1.0" stroke-linecap="butt"/>
<line x1="292.00" y1="317.50" x2="295.60" y2="317.50" stroke="#161616" stroke-width="1.0" stroke-linecap="butt"/>
<line x1="200.50" y1="357.12" x2="200.50" y2="361.44" stroke="#161616" stroke-width="1.0" stroke-linecap="butt"/>
<line x1="198.52" y1="357.50" x2="202.12" y2="357.50" stroke="#161616" stroke-width="1.0" stroke-linecap="butt"/>
<line x1="198.52" y1="361.50" x2="202.12" y2="361.50" stroke="#161616" stroke-width="1.0" stroke-linecap="butt"/>
<line x1="207.50" y1="339.30" x2="207.50" y2="344.70" stroke="#161616" stroke-width="1.0" stroke-linecap="butt"/>
<line x1="205.90" y1="339.50" x2="209.50" y2="339.50" stroke="#161616" stroke-width="1.0" stroke-linecap="butt"/>
<line x1="205.90" y1="344.50" x2="209.50" y2="344.50" stroke="#161616" stroke-width="1.0" stroke-linecap="butt"/>
<line x1="220.50" y1="317.70" x2="220.50" y2="326.34" stroke="#161616" stroke-width="1.0" stroke-linecap="butt"/>
<line x1="218.20" y1="317.50" x2="221.80" y2="317.50" stroke="#161616" stroke-width="1.0" stroke-linecap="butt"/>
<line x1="218.20" y1="326.50" x2="221.80" y2="326.50" stroke="#161616" stroke-width="1.0" stroke-linecap="butt"/>
<line x1="244.50" y1="298.80" x2="244.50" y2="307.44" stroke="#161616" stroke-width="1.0" stroke-linecap="butt"/>
<line x1="242.80" y1="298.50" x2="246.40" y2="298.50" stroke="#161616" stroke-width="1.0" stroke-linecap="butt"/>
<line x1="242.80" y1="307.50" x2="246.40" y2="307.50" stroke="#161616" stroke-width="1.0" stroke-linecap="butt"/>
<line x1="293.50" y1="295.02" x2="293.50" y2="300.42" stroke="#161616" stroke-width="1.0" stroke-linecap="butt"/>
<line x1="292.00" y1="295.50" x2="295.60" y2="295.50" stroke="#161616" stroke-width="1.0" stroke-linecap="butt"/>
<line x1="292.00" y1="300.50" x2="295.60" y2="300.50" stroke="#161616" stroke-width="1.0" stroke-linecap="butt"/>
<line x1="195.50" y1="279.60" x2="195.50" y2="369.60" stroke="#161616" stroke-width="1.35" stroke-linecap="butt"/>
<line x1="192.40" y1="369.50" x2="195.40" y2="369.50" stroke="#161616" stroke-width="1.35" stroke-linecap="butt"/>
<text x="189.60" y="371.90" font-size="8.3" text-anchor="end">10</text>
<line x1="192.40" y1="358.50" x2="195.40" y2="358.50" stroke="#161616" stroke-width="1.35" stroke-linecap="butt"/>
<text x="189.60" y="361.10" font-size="8.3" text-anchor="end">20</text>
<line x1="192.40" y1="347.50" x2="195.40" y2="347.50" stroke="#161616" stroke-width="1.35" stroke-linecap="butt"/>
<text x="189.60" y="350.30" font-size="8.3" text-anchor="end">30</text>
<line x1="192.40" y1="336.50" x2="195.40" y2="336.50" stroke="#161616" stroke-width="1.35" stroke-linecap="butt"/>
<text x="189.60" y="339.50" font-size="8.3" text-anchor="end">40</text>
<line x1="192.40" y1="325.50" x2="195.40" y2="325.50" stroke="#161616" stroke-width="1.35" stroke-linecap="butt"/>
<text x="189.60" y="328.70" font-size="8.3" text-anchor="end">50</text>
<line x1="192.40" y1="315.50" x2="195.40" y2="315.50" stroke="#161616" stroke-width="1.35" stroke-linecap="butt"/>
<text x="189.60" y="317.90" font-size="8.3" text-anchor="end">60</text>
<line x1="192.40" y1="304.50" x2="195.40" y2="304.50" stroke="#161616" stroke-width="1.35" stroke-linecap="butt"/>
<text x="189.60" y="307.10" font-size="8.3" text-anchor="end">70</text>
<line x1="192.40" y1="293.50" x2="195.40" y2="293.50" stroke="#161616" stroke-width="1.35" stroke-linecap="butt"/>
<text x="189.60" y="296.30" font-size="8.3" text-anchor="end">80</text>
<line x1="192.40" y1="282.50" x2="195.40" y2="282.50" stroke="#161616" stroke-width="1.35" stroke-linecap="butt"/>
<text x="189.60" y="285.50" font-size="8.3" text-anchor="end">90</text>
<line x1="194.80" y1="369.50" x2="319.00" y2="369.50" stroke="#161616" stroke-width="1.35" stroke-linecap="butt"/>
<line x1="195.50" y1="369.00" x2="195.50" y2="372.00" stroke="#161616" stroke-width="1.35" stroke-linecap="butt"/>
<text x="195.40" y="382.30" font-size="8.3" text-anchor="middle">0.0</text>
<line x1="220.50" y1="369.00" x2="220.50" y2="372.00" stroke="#161616" stroke-width="1.35" stroke-linecap="butt"/>
<text x="220.00" y="382.30" font-size="8.3" text-anchor="middle">0.5</text>
<line x1="244.50" y1="369.00" x2="244.50" y2="372.00" stroke="#161616" stroke-width="1.35" stroke-linecap="butt"/>
<text x="244.60" y="382.30" font-size="8.3" text-anchor="middle">1.0</text>
<line x1="269.50" y1="369.00" x2="269.50" y2="372.00" stroke="#161616" stroke-width="1.35" stroke-linecap="butt"/>
<text x="269.20" y="382.30" font-size="8.3" text-anchor="middle">1.5</text>
<line x1="293.50" y1="369.00" x2="293.50" y2="372.00" stroke="#161616" stroke-width="1.35" stroke-linecap="butt"/>
<text x="293.80" y="382.30" font-size="8.3" text-anchor="middle">2.0</text>
<line x1="318.50" y1="369.00" x2="318.50" y2="372.00" stroke="#161616" stroke-width="1.35" stroke-linecap="butt"/>
<text x="318.40" y="382.30" font-size="8.3" text-anchor="middle">2.5</text>
<text x="227.20" y="395.40" font-size="10.4" textLength="62.30" lengthAdjust="spacingAndGlyphs">Thrombin(U/ml)</text>
<text x="220.00" y="315.20" font-size="8.0" text-anchor="middle" font-weight="bold">*</text>
<text x="244.60" y="297.00" font-size="8.0" text-anchor="middle" font-weight="bold">*</text>
<text x="293.80" y="292.40" font-size="8.0" text-anchor="middle" font-weight="bold">*</text>
<text x="254.00" y="298.80" font-size="7.6" textLength="11.60" lengthAdjust="spacingAndGlyphs">WT</text>
<text x="254.00" y="330.80" font-size="7.6" font-style="italic" textLength="24.40" lengthAdjust="spacingAndGlyphs">Ask1-/-</text>
<text x="164.9" y="326.0" font-size="9.6" text-anchor="middle" textLength="66.6" lengthAdjust="spacingAndGlyphs" transform="rotate(-90 164.9 326.0)" style="stroke-width:0">% <tspan font-size="6.4" dy="-3.4">14</tspan><tspan dy="3.4">C serotonin</tspan></text>
<text x="174.4" y="324.0" font-size="9.6" text-anchor="middle" textLength="26.0" lengthAdjust="spacingAndGlyphs" transform="rotate(-90 174.4 324.0)" style="stroke-width:0">release</text>
<text x="340.20" y="259.50" font-size="11.0" font-weight="bold">D</text>
<rect x="407.70" y="364.60" width="4.30" height="3.79" fill="#b0032c"/>
<line x1="409.50" y1="365.10" x2="409.50" y2="364.15" stroke="#161616" stroke-width="1.0" stroke-linecap="butt"/>
<line x1="407.60" y1="364.50" x2="411.40" y2="364.50" stroke="#161616" stroke-width="1.0" stroke-linecap="butt"/>
<rect x="414.00" y="365.10" width="4.30" height="3.30" fill="#2d4b80"/>
<line x1="416.50" y1="365.60" x2="416.50" y2="364.60" stroke="#161616" stroke-width="1.0" stroke-linecap="butt"/>
<line x1="414.60" y1="364.50" x2="418.40" y2="364.50" stroke="#161616" stroke-width="1.0" stroke-linecap="butt"/>
<rect x="429.00" y="331.36" width="5.00" height="37.04" fill="#b0032c"/>
<line x1="431.50" y1="331.86" x2="431.50" y2="327.11" stroke="#161616" stroke-width="1.0" stroke-linecap="butt"/>
<line x1="429.60" y1="327.50" x2="433.40" y2="327.50" stroke="#161616" stroke-width="1.0" stroke-linecap="butt"/>
<rect x="435.30" y="340.85" width="5.00" height="27.55" fill="#2d4b80"/>
<line x1="437.50" y1="341.35" x2="437.50" y2="337.58" stroke="#161616" stroke-width="1.0" stroke-linecap="butt"/>
<line x1="435.60" y1="337.50" x2="439.40" y2="337.50" stroke="#161616" stroke-width="1.0" stroke-linecap="butt"/>
<rect x="450.80" y="308.82" width="5.00" height="59.58" fill="#b0032c"/>
<line x1="453.50" y1="309.32" x2="453.50" y2="304.42" stroke="#161616" stroke-width="1.0" stroke-linecap="butt"/>
<line x1="451.60" y1="304.50" x2="455.40" y2="304.50" stroke="#161616" stroke-width="1.0" stroke-linecap="butt"/>
<rect x="457.20" y="328.93" width="4.70" height="39.47" fill="#2d4b80"/>
<line x1="459.50" y1="329.43" x2="459.50" y2="328.17" stroke="#161616" stroke-width="1.0" stroke-linecap="butt"/>
<line x1="457.60" y1="328.50" x2="461.40" y2="328.50" stroke="#161616" stroke-width="1.0" stroke-linecap="butt"/>
<rect x="472.50" y="303.58" width="4.90" height="64.82" fill="#b0032c"/>
<line x1="474.50" y1="304.08" x2="474.50" y2="299.71" stroke="#161616" stroke-width="1.0" stroke-linecap="butt"/>
<line x1="472.60" y1="299.50" x2="476.40" y2="299.50" stroke="#161616" stroke-width="1.0" stroke-linecap="butt"/>
<rect x="479.20" y="324.91" width="4.70" height="43.49" fill="#2d4b80"/>
<line x1="481.50" y1="325.41" x2="481.50" y2="323.24" stroke="#161616" stroke-width="1.0" stroke-linecap="butt"/>
<line x1="479.60" y1="323.50" x2="483.40" y2="323.50" stroke="#161616" stroke-width="1.0" stroke-linecap="butt"/>
<rect x="494.10" y="298.19" width="4.90" height="70.21" fill="#b0032c"/>
<line x1="496.50" y1="298.69" x2="496.50" y2="295.31" stroke="#161616" stroke-width="1.0" stroke-linecap="butt"/>
<line x1="494.60" y1="295.50" x2="498.40" y2="295.50" stroke="#161616" stroke-width="1.0" stroke-linecap="butt"/>
<rect x="500.90" y="319.44" width="4.90" height="48.96" fill="#2d4b80"/>
<line x1="503.50" y1="319.94" x2="503.50" y2="318.61" stroke="#161616" stroke-width="1.0" stroke-linecap="butt"/>
<line x1="501.60" y1="318.50" x2="505.40" y2="318.50" stroke="#161616" stroke-width="1.0" stroke-linecap="butt"/>
<line x1="391.50" y1="274.32" x2="391.50" y2="369.00" stroke="#161616" stroke-width="1.35" stroke-linecap="butt"/>
<line x1="388.00" y1="368.50" x2="391.00" y2="368.50" stroke="#161616" stroke-width="1.35" stroke-linecap="butt"/>
<text x="385.20" y="371.30" font-size="8.3" text-anchor="end">0</text>
<line x1="388.00" y1="353.50" x2="391.00" y2="353.50" stroke="#161616" stroke-width="1.35" stroke-linecap="butt"/>
<text x="385.20" y="356.12" font-size="8.3" text-anchor="end">2000</text>
<line x1="388.00" y1="338.50" x2="391.00" y2="338.50" stroke="#161616" stroke-width="1.35" stroke-linecap="butt"/>
<text x="385.20" y="340.94" font-size="8.3" text-anchor="end">4000</text>
<line x1="388.00" y1="322.50" x2="391.00" y2="322.50" stroke="#161616" stroke-width="1.35" stroke-linecap="butt"/>
<text x="385.20" y="325.76" font-size="8.3" text-anchor="end">6000</text>
<line x1="388.00" y1="307.50" x2="391.00" y2="307.50" stroke="#161616" stroke-width="1.35" stroke-linecap="butt"/>
<text x="385.20" y="310.58" font-size="8.3" text-anchor="end">8000</text>
<line x1="388.00" y1="292.50" x2="391.00" y2="292.50" stroke="#161616" stroke-width="1.35" stroke-linecap="butt"/>
<text x="385.20" y="295.40" font-size="8.3" text-anchor="end">10000</text>
<line x1="388.00" y1="277.50" x2="391.00" y2="277.50" stroke="#161616" stroke-width="1.35" stroke-linecap="butt"/>
<text x="385.20" y="280.22" font-size="8.3" text-anchor="end">12000</text>
<line x1="390.40" y1="368.50" x2="512.60" y2="368.50" stroke="#161616" stroke-width="1.35" stroke-linecap="butt"/>
<line x1="412.50" y1="368.40" x2="412.50" y2="371.40" stroke="#161616" stroke-width="1.35" stroke-linecap="butt"/>
<text x="412.90" y="381.90" font-size="8.0" text-anchor="middle">0</text>
<line x1="434.50" y1="368.40" x2="434.50" y2="371.40" stroke="#161616" stroke-width="1.35" stroke-linecap="butt"/>
<text x="434.70" y="381.90" font-size="8.0" text-anchor="middle">55</text>
<line x1="456.50" y1="368.40" x2="456.50" y2="371.40" stroke="#161616" stroke-width="1.35" stroke-linecap="butt"/>
<text x="456.50" y="381.90" font-size="8.0" text-anchor="middle">65</text>
<line x1="478.50" y1="368.40" x2="478.50" y2="371.40" stroke="#161616" stroke-width="1.35" stroke-linecap="butt"/>
<text x="478.30" y="381.90" font-size="8.0" text-anchor="middle">75</text>
<line x1="500.50" y1="368.40" x2="500.50" y2="371.40" stroke="#161616" stroke-width="1.35" stroke-linecap="butt"/>
<text x="500.40" y="381.90" font-size="8.0" text-anchor="middle">100</text>
<line x1="410.70" y1="386.50" x2="507.00" y2="386.50" stroke="#161616" stroke-width="1.35" stroke-linecap="butt"/>
<text x="425.8" y="398.6" font-size="10.4" textLength="52.7" lengthAdjust="spacingAndGlyphs">AYPGKF(μM)</text>
<path d="M450.50,301.10 L450.50,299.50 L460.50,299.50 L460.50,323.40" fill="none" stroke="#161616" stroke-width="1.1"/>
<text x="456.00" y="298.30" font-size="8.0" text-anchor="middle" font-weight="bold">*</text>
<path d="M474.50,298.10 L474.50,296.50 L482.50,296.50 L482.50,322.60" fill="none" stroke="#161616" stroke-width="1.1"/>
<text x="478.50" y="295.30" font-size="8.0" text-anchor="middle" font-weight="bold">**</text>
<path d="M496.50,292.10 L496.50,290.50 L504.50,290.50 L504.50,313.30" fill="none" stroke="#161616" stroke-width="1.1"/>
<text x="500.80" y="289.30" font-size="8.0" text-anchor="middle" font-weight="bold">**</text>
<rect x="393.90" y="276.00" width="8.90" height="4.10" fill="#b0032c"/>
<rect x="393.90" y="285.90" width="8.90" height="4.30" fill="#2d4b80"/>
<text x="405.90" y="280.40" font-size="7.6" textLength="11.60" lengthAdjust="spacingAndGlyphs">WT</text>
<text x="406.20" y="290.50" font-size="7.6" font-style="italic" textLength="24.40" lengthAdjust="spacingAndGlyphs">Ask1-/-</text>
<text x="356.00" y="321.30" font-size="9.6" text-anchor="middle" textLength="84.00" lengthAdjust="spacingAndGlyphs" transform="rotate(-90 356.00 321.30)">P-selectin expression</text>
<text x="179.80" y="425.60" font-size="11.0" font-weight="bold">E</text>
<text x="240.70" y="425.30" font-size="8.4" textLength="15.20" lengthAdjust="spacingAndGlyphs">WT</text>
<text x="345.0" y="425.3" font-size="8.4" font-style="italic" textLength="30.0" lengthAdjust="spacingAndGlyphs">Ask1<tspan font-size="5.4" dy="-2.8">-/-</tspan></text>
<clipPath id="emwt"><rect x="190.2" y="430.8" width="107.6" height="128.7"/></clipPath>
<filter id="grain5" x="190.2" y="430.8" width="107.6" height="128.7" filterUnits="userSpaceOnUse" color-interpolation-filters="sRGB"><feTurbulence type="fractalNoise" baseFrequency="0.28" numOctaves="2" seed="5"/><feColorMatrix type="matrix" values="0.33 0.33 0.33 0 0  0.33 0.33 0.33 0 0  0.33 0.33 0.33 0 0  0 0 0 0 1"/></filter>
<g clip-path="url(#emwt)">
<rect x="190.2" y="430.8" width="107.6" height="128.7" fill="#c9c9c9"/>
<rect x="189.37" y="437.37" width="13.25" height="5.26" rx="2.50" ry="2.50" transform="rotate(-10 196 440)" fill="#767676" stroke="#4e4e4e" stroke-width="0.9"/>
<circle cx="195.6" cy="438.7" r="1.7" fill="#303030" opacity="0.85"/>
<rect x="198.08" y="432.60" width="8.84" height="3.80" rx="1.81" ry="1.81" transform="rotate(-60 202.5 434.5)" fill="#767676" stroke="#4e4e4e" stroke-width="0.9"/>
<circle cx="201.4" cy="434.1" r="1.8" fill="#303030" opacity="0.85"/>
<ellipse cx="216.9" cy="437.4" rx="8.549999999999999" ry="4.3" transform="rotate(50 216.9 437.4)" fill="#767676" stroke="#4e4e4e" stroke-width="0.9"/>
<circle cx="216.2" cy="436.8" r="1.8" fill="#303030" opacity="0.85"/>
<circle cx="220.2" cy="439.3" r="1.1" fill="#303030" opacity="0.85"/>
<ellipse cx="233" cy="444.9" rx="6.555" ry="7.396" transform="rotate(-20 233 444.9)" fill="#767676" stroke="#4e4e4e" stroke-width="0.9"/>
<circle cx="234.2" cy="448.0" r="1.5" fill="#303030" opacity="0.85"/>
<circle cx="236.1" cy="444.1" r="1.2" fill="#303030" opacity="0.85"/>
<circle cx="234.4" cy="443.0" r="1.7" fill="#303030" opacity="0.85"/>
<ellipse cx="212.9" cy="462.7" rx="7.6" ry="12.9" transform="rotate(-10 212.9 462.7)" fill="#767676" stroke="#4e4e4e" stroke-width="0.9"/>
<circle cx="212.9" cy="459.4" r="1.1" fill="#303030" opacity="0.85"/>
<circle cx="216.4" cy="466.9" r="1.0" fill="#303030" opacity="0.85"/>
<circle cx="215.4" cy="470.0" r="1.2" fill="#303030" opacity="0.85"/>
<circle cx="215.2" cy="456.2" r="1.3" fill="#303030" opacity="0.85"/>
<circle cx="207.9" cy="461.5" r="1.6" fill="#303030" opacity="0.85"/>
<circle cx="214.7" cy="461.0" r="1.6" fill="#303030" opacity="0.85"/>
<rect x="215.31" y="461.33" width="27.39" height="8.33" rx="3.96" ry="3.96" transform="rotate(60 229 465.5)" fill="#767676" stroke="#4e4e4e" stroke-width="0.9"/>
<circle cx="233.9" cy="470.6" r="1.3" fill="#303030" opacity="0.85"/>
<circle cx="229.1" cy="468.5" r="1.1" fill="#303030" opacity="0.85"/>
<circle cx="228.1" cy="465.2" r="1.5" fill="#303030" opacity="0.85"/>
<ellipse cx="194.6" cy="464.4" rx="7.6" ry="10.32" transform="rotate(0 194.6 464.4)" fill="#767676" stroke="#4e4e4e" stroke-width="0.9"/>
<circle cx="194.5" cy="464.0" r="1.3" fill="#303030" opacity="0.85"/>
<circle cx="195.7" cy="461.0" r="1.4" fill="#303030" opacity="0.85"/>
<circle cx="191.8" cy="464.8" r="1.6" fill="#303030" opacity="0.85"/>
<circle cx="195.8" cy="464.2" r="1.0" fill="#303030" opacity="0.85"/>
<ellipse cx="207.2" cy="483.9" rx="12.35" ry="6.45" transform="rotate(55 207.2 483.9)" fill="#767676" stroke="#4e4e4e" stroke-width="0.9"/>
<circle cx="211.9" cy="485.4" r="1.0" fill="#303030" opacity="0.85"/>
<circle cx="202.2" cy="481.6" r="1.5" fill="#303030" opacity="0.85"/>
<circle cx="207.5" cy="484.6" r="1.2" fill="#303030" opacity="0.85"/>
<circle cx="205.5" cy="488.2" r="1.7" fill="#303030" opacity="0.85"/>
<rect x="212.31" y="477.58" width="22.97" height="10.23" rx="4.86" ry="4.86" transform="rotate(70 223.8 482.7)" fill="#767676" stroke="#4e4e4e" stroke-width="0.9"/>
<circle cx="227.2" cy="488.6" r="1.3" fill="#303030" opacity="0.85"/>
<circle cx="222.6" cy="478.5" r="1.7" fill="#303030" opacity="0.85"/>
<circle cx="224.8" cy="482.3" r="1.7" fill="#303030" opacity="0.85"/>
<ellipse cx="192.3" cy="485" rx="2.8499999999999996" ry="6.02" transform="rotate(0 192.3 485)" fill="#767676" stroke="#4e4e4e" stroke-width="0.9"/>
<circle cx="194.0" cy="485.8" r="1.9" fill="#303030" opacity="0.85"/>
<ellipse cx="242.2" cy="454.3" rx="1.8" ry="1.8" transform="rotate(0 242.2 454.3)" fill="#5e5e5e" stroke="#4e4e4e" stroke-width="0.9"/>
<rect x="242.54" y="435.40" width="20.32" height="7.60" rx="3.61" ry="3.61" transform="rotate(-38 252.7 439.2)" fill="#767676" stroke="#4e4e4e" stroke-width="0.9"/>
<circle cx="252.2" cy="440.4" r="1.5" fill="#303030" opacity="0.85"/>
<circle cx="251.3" cy="442.9" r="1.8" fill="#303030" opacity="0.85"/>
<rect x="265.54" y="443.78" width="20.32" height="8.04" rx="3.82" ry="3.82" transform="rotate(55 275.7 447.8)" fill="#767676" stroke="#4e4e4e" stroke-width="0.9"/>
<circle cx="273.2" cy="447.3" r="1.3" fill="#303030" opacity="0.85"/>
<circle cx="276.7" cy="450.1" r="1.1" fill="#303030" opacity="0.85"/>
<rect x="281.23" y="431.35" width="14.14" height="4.09" rx="1.94" ry="1.94" transform="rotate(-10 288.3 433.4)" fill="#767676" stroke="#4e4e4e" stroke-width="0.9"/>
<circle cx="292.1" cy="432.7" r="1.1" fill="#303030" opacity="0.85"/>
<rect x="283.08" y="445.48" width="19.44" height="8.04" rx="3.82" ry="3.82" transform="rotate(65 292.8 449.5)" fill="#767676" stroke="#4e4e4e" stroke-width="0.9"/>
<circle cx="293.4" cy="450.7" r="1.5" fill="#303030" opacity="0.85"/>
<circle cx="291.4" cy="450.5" r="1.5" fill="#303030" opacity="0.85"/>
<rect x="246.72" y="453.06" width="29.16" height="10.09" rx="4.79" ry="4.79" transform="rotate(32 261.3 458.1)" fill="#767676" stroke="#4e4e4e" stroke-width="0.9"/>
<circle cx="253.8" cy="454.4" r="1.4" fill="#303030" opacity="0.85"/>
<circle cx="263.1" cy="458.8" r="1.0" fill="#303030" opacity="0.85"/>
<circle cx="265.3" cy="458.3" r="1.1" fill="#303030" opacity="0.85"/>
<circle cx="268.3" cy="461.4" r="1.6" fill="#303030" opacity="0.85"/>
<ellipse cx="248.2" cy="466.7" rx="4.75" ry="3.01" transform="rotate(-10 248.2 466.7)" fill="#767676" stroke="#4e4e4e" stroke-width="0.9"/>
<circle cx="250.5" cy="467.4" r="1.4" fill="#303030" opacity="0.85"/>
<ellipse cx="287.7" cy="471.3" rx="10.45" ry="7.31" transform="rotate(10 287.7 471.3)" fill="#767676" stroke="#4e4e4e" stroke-width="0.9"/>
<circle cx="289.4" cy="470.1" r="1.3" fill="#303030" opacity="0.85"/>
<circle cx="292.2" cy="472.1" r="1.8" fill="#303030" opacity="0.85"/>
<circle cx="281.1" cy="471.5" r="1.4" fill="#303030" opacity="0.85"/>
<circle cx="281.9" cy="470.8" r="1.3" fill="#303030" opacity="0.85"/>
<ellipse cx="268.2" cy="479.8" rx="13.299999999999999" ry="7.74" transform="rotate(35 268.2 479.8)" fill="#767676" stroke="#4e4e4e" stroke-width="0.9"/>
<circle cx="269.5" cy="483.8" r="1.3" fill="#303030" opacity="0.85"/>
<circle cx="275.7" cy="483.5" r="1.6" fill="#303030" opacity="0.85"/>
<circle cx="263.8" cy="480.4" r="1.1" fill="#303030" opacity="0.85"/>
<circle cx="270.4" cy="478.2" r="1.8" fill="#303030" opacity="0.85"/>
<circle cx="270.8" cy="478.1" r="1.7" fill="#303030" opacity="0.85"/>
<circle cx="267.2" cy="474.7" r="1.7" fill="#303030" opacity="0.85"/>
<ellipse cx="251" cy="481.6" rx="11.399999999999999" ry="7.74" transform="rotate(45 251 481.6)" fill="#767676" stroke="#4e4e4e" stroke-width="0.9"/>
<circle cx="252.2" cy="478.7" r="1.3" fill="#303030" opacity="0.85"/>
<circle cx="253.9" cy="479.6" r="1.6" fill="#303030" opacity="0.85"/>
<circle cx="254.3" cy="483.6" r="1.6" fill="#303030" opacity="0.85"/>
<circle cx="254.8" cy="485.8" r="1.5" fill="#303030" opacity="0.85"/>
<circle cx="251.3" cy="478.8" r="1.4" fill="#303030" opacity="0.85"/>
<rect x="276.78" y="486.61" width="19.44" height="8.77" rx="4.17" ry="4.17" transform="rotate(70 286.5 491)" fill="#767676" stroke="#4e4e4e" stroke-width="0.9"/>
<circle cx="287.3" cy="487.1" r="1.7" fill="#303030" opacity="0.85"/>
<circle cx="287.0" cy="488.4" r="1.7" fill="#303030" opacity="0.85"/>
<ellipse cx="260.2" cy="499.5" rx="10.45" ry="5.59" transform="rotate(-30 260.2 499.5)" fill="#767676" stroke="#4e4e4e" stroke-width="0.9"/>
<circle cx="258.4" cy="503.6" r="1.8" fill="#303030" opacity="0.85"/>
<circle cx="256.6" cy="498.0" r="1.9" fill="#303030" opacity="0.85"/>
<circle cx="254.3" cy="502.5" r="1.5" fill="#303030" opacity="0.85"/>
<ellipse cx="239.3" cy="501" rx="14.25" ry="7.74" transform="rotate(62 239.3 501)" fill="#767676" stroke="#4e4e4e" stroke-width="0.9"/>
<circle cx="241.8" cy="501.9" r="1.8" fill="#303030" opacity="0.85"/>
<circle cx="241.1" cy="497.4" r="1.6" fill="#303030" opacity="0.85"/>
<circle cx="237.7" cy="506.1" r="1.7" fill="#303030" opacity="0.85"/>
<circle cx="240.5" cy="496.3" r="1.4" fill="#303030" opacity="0.85"/>
<circle cx="243.3" cy="500.2" r="1.6" fill="#303030" opacity="0.85"/>
<circle cx="242.3" cy="508.2" r="1.1" fill="#303030" opacity="0.85"/>
<ellipse cx="212" cy="515" rx="17.099999999999998" ry="9.03" transform="rotate(55 212 515)" fill="#767676" stroke="#4e4e4e" stroke-width="0.9"/>
<circle cx="212.1" cy="509.6" r="1.2" fill="#303030" opacity="0.85"/>
<circle cx="211.3" cy="507.8" r="1.0" fill="#303030" opacity="0.85"/>
<circle cx="209.4" cy="518.2" r="1.0" fill="#303030" opacity="0.85"/>
<circle cx="209.4" cy="514.8" r="1.2" fill="#303030" opacity="0.85"/>
<circle cx="214.3" cy="519.2" r="1.4" fill="#303030" opacity="0.85"/>
<circle cx="210.9" cy="509.4" r="1.5" fill="#303030" opacity="0.85"/>
<circle cx="215.9" cy="517.7" r="1.0" fill="#303030" opacity="0.85"/>
<circle cx="208.3" cy="516.1" r="1.4" fill="#303030" opacity="0.85"/>
<circle cx="214.5" cy="515.5" r="1.3" fill="#303030" opacity="0.85"/>
<ellipse cx="195.9" cy="523.8" rx="8.549999999999999" ry="6.88" transform="rotate(-30 195.9 523.8)" fill="#767676" stroke="#4e4e4e" stroke-width="0.9"/>
<circle cx="194.9" cy="523.7" r="1.1" fill="#303030" opacity="0.85"/>
<circle cx="195.4" cy="527.3" r="1.5" fill="#303030" opacity="0.85"/>
<circle cx="195.9" cy="519.2" r="1.4" fill="#303030" opacity="0.85"/>
<rect x="217.58" y="527.48" width="30.04" height="10.23" rx="4.86" ry="4.86" transform="rotate(-65 232.6 532.6)" fill="#767676" stroke="#4e4e4e" stroke-width="0.9"/>
<circle cx="228.2" cy="536.6" r="1.3" fill="#303030" opacity="0.85"/>
<circle cx="230.7" cy="535.0" r="1.5" fill="#303030" opacity="0.85"/>
<circle cx="236.0" cy="523.8" r="1.5" fill="#303030" opacity="0.85"/>
<circle cx="233.4" cy="528.0" r="1.0" fill="#303030" opacity="0.85"/>
<ellipse cx="200.6" cy="545.6" rx="12.35" ry="10.32" transform="rotate(30 200.6 545.6)" fill="#767676" stroke="#4e4e4e" stroke-width="0.9"/>
<circle cx="199.0" cy="543.6" r="1.6" fill="#303030" opacity="0.85"/>
<circle cx="199.7" cy="543.0" r="1.8" fill="#303030" opacity="0.85"/>
<circle cx="195.9" cy="544.8" r="1.2" fill="#303030" opacity="0.85"/>
<circle cx="204.6" cy="547.2" r="1.3" fill="#303030" opacity="0.85"/>
<circle cx="208.1" cy="546.0" r="1.5" fill="#303030" opacity="0.85"/>
<circle cx="204.3" cy="547.3" r="1.4" fill="#303030" opacity="0.85"/>
<circle cx="196.8" cy="547.9" r="1.9" fill="#303030" opacity="0.85"/>
<ellipse cx="204.2" cy="527.9" rx="1.8" ry="1.8" transform="rotate(0 204.2 527.9)" fill="#5e5e5e" stroke="#4e4e4e" stroke-width="0.9"/>
<ellipse cx="207.2" cy="532" rx="1.8" ry="1.8" transform="rotate(0 207.2 532)" fill="#5e5e5e" stroke="#4e4e4e" stroke-width="0.9"/>
<ellipse cx="217.2" cy="558" rx="3.8" ry="2.15" transform="rotate(0 217.2 558)" fill="#767676" stroke="#4e4e4e" stroke-width="0.9"/>
<circle cx="216.8" cy="559.0" r="1.4" fill="#303030" opacity="0.85"/>
<ellipse cx="243.5" cy="554.5" rx="3.8" ry="4.3" transform="rotate(0 243.5 554.5)" fill="#767676" stroke="#4e4e4e" stroke-width="0.9"/>
<circle cx="242.9" cy="553.8" r="1.4" fill="#303030" opacity="0.85"/>
<rect x="237.45" y="520.85" width="26.51" height="11.70" rx="5.56" ry="5.56" transform="rotate(-60 250.7 526.7)" fill="#767676" stroke="#4e4e4e" stroke-width="0.9"/>
<circle cx="249.4" cy="524.9" r="1.7" fill="#303030" opacity="0.85"/>
<circle cx="250.1" cy="527.5" r="1.2" fill="#303030" opacity="0.85"/>
<circle cx="248.4" cy="523.5" r="1.2" fill="#303030" opacity="0.85"/>
<circle cx="253.4" cy="525.3" r="1.9" fill="#303030" opacity="0.85"/>
<ellipse cx="269.6" cy="534.4" rx="10.45" ry="6.45" transform="rotate(35 269.6 534.4)" fill="#767676" stroke="#4e4e4e" stroke-width="0.9"/>
<circle cx="268.1" cy="531.6" r="1.4" fill="#303030" opacity="0.85"/>
<circle cx="267.2" cy="530.2" r="1.7" fill="#303030" opacity="0.85"/>
<circle cx="270.5" cy="533.3" r="1.3" fill="#303030" opacity="0.85"/>
<circle cx="266.0" cy="535.1" r="1.3" fill="#303030" opacity="0.85"/>
<ellipse cx="277.9" cy="527.1" rx="5.225" ry="3.44" transform="rotate(-30 277.9 527.1)" fill="#767676" stroke="#4e4e4e" stroke-width="0.9"/>
<circle cx="276.0" cy="528.6" r="1.3" fill="#303030" opacity="0.85"/>
<rect x="272.60" y="521.16" width="31.81" height="6.29" rx="2.99" ry="2.99" transform="rotate(85 288.5 524.3)" fill="#767676" stroke="#4e4e4e" stroke-width="0.9"/>
<circle cx="288.8" cy="516.7" r="1.0" fill="#303030" opacity="0.85"/>
<circle cx="287.8" cy="519.4" r="1.8" fill="#303030" opacity="0.85"/>
<circle cx="288.2" cy="514.9" r="1.0" fill="#303030" opacity="0.85"/>
<rect x="285.90" y="535.58" width="21.20" height="5.85" rx="2.78" ry="2.78" transform="rotate(80 296.5 538.5)" fill="#767676" stroke="#4e4e4e" stroke-width="0.9"/>
<circle cx="294.8" cy="533.2" r="1.5" fill="#303030" opacity="0.85"/>
<ellipse cx="256" cy="551" rx="8.549999999999999" ry="6.02" transform="rotate(30 256 551)" fill="#767676" stroke="#4e4e4e" stroke-width="0.9"/>
<circle cx="254.5" cy="547.3" r="1.4" fill="#303030" opacity="0.85"/>
<circle cx="251.3" cy="551.1" r="1.4" fill="#303030" opacity="0.85"/>
<circle cx="255.8" cy="554.8" r="1.3" fill="#303030" opacity="0.85"/>
<rect x="265.34" y="545.41" width="20.32" height="8.77" rx="4.17" ry="4.17" transform="rotate(-40 275.5 549.8)" fill="#767676" stroke="#4e4e4e" stroke-width="0.9"/>
<circle cx="280.4" cy="547.1" r="1.8" fill="#303030" opacity="0.85"/>
<circle cx="272.3" cy="553.8" r="1.3" fill="#303030" opacity="0.85"/>
<ellipse cx="265.5" cy="507.8" rx="1.2" ry="1.2" transform="rotate(0 265.5 507.8)" fill="#5e5e5e" stroke="#4e4e4e" stroke-width="0.9"/>
<ellipse cx="280.3" cy="519.6" rx="1.5" ry="1.5" transform="rotate(0 280.3 519.6)" fill="#5e5e5e" stroke="#4e4e4e" stroke-width="0.9"/>
<ellipse cx="272" cy="520.8" rx="1" ry="1" transform="rotate(0 272 520.8)" fill="#5e5e5e" stroke="#4e4e4e" stroke-width="0.9"/>
<rect x="190.2" y="430.8" width="107.6" height="128.7" filter="url(#grain5)" opacity="0.3" style="mix-blend-mode:overlay"/>
</g>
<clipPath id="emko"><rect x="305.5" y="430.8" width="107.3" height="128.6"/></clipPath>
<filter id="grain6" x="305.5" y="430.8" width="107.3" height="128.6" filterUnits="userSpaceOnUse" color-interpolation-filters="sRGB"><feTurbulence type="fractalNoise" baseFrequency="0.28" numOctaves="2" seed="6"/><feColorMatrix type="matrix" values="0.33 0.33 0.33 0 0  0.33 0.33 0.33 0 0  0.33 0.33 0.33 0 0  0 0 0 0 1"/></filter>
<g clip-path="url(#emko)">
<rect x="305.5" y="430.8" width="107.3" height="128.6" fill="#cfcfcf"/>
<filter id="sb" x="-20%" y="-20%" width="140%" height="140%"><feGaussianBlur stdDeviation="3"/></filter>
<path d="M400,508 L413,500 L413,560 L394,560 L401,535 Z" fill="#dadada" filter="url(#sb)"/>
<path d="M305,522 L316,532 L320,560 L305,560 Z" fill="#b8b8b8" filter="url(#sb)"/>
<ellipse cx="313.6" cy="442.6" rx="7.3149999999999995" ry="7.138000000000001" transform="rotate(-10 313.6 442.6)" fill="#6f6f6f" stroke="#484848" stroke-width="0.9"/>
<circle cx="314.8" cy="438.6" r="1.4" fill="#303030" opacity="0.85"/>
<circle cx="316.0" cy="442.2" r="1.6" fill="#303030" opacity="0.85"/>
<circle cx="313.2" cy="439.4" r="1.3" fill="#303030" opacity="0.85"/>
<rect x="320.00" y="436.88" width="31.81" height="8.04" rx="3.82" ry="3.82" transform="rotate(28 335.9 440.9)" fill="#6f6f6f" stroke="#484848" stroke-width="0.9"/>
<circle cx="333.7" cy="442.3" r="1.7" fill="#303030" opacity="0.85"/>
<circle cx="328.7" cy="438.4" r="1.5" fill="#303030" opacity="0.85"/>
<circle cx="337.6" cy="444.1" r="1.5" fill="#303030" opacity="0.85"/>
<ellipse cx="362" cy="438" rx="12.35" ry="6.45" transform="rotate(-15 362 438)" fill="#6f6f6f" stroke="#484848" stroke-width="0.9"/>
<circle cx="362.3" cy="441.8" r="1.7" fill="#303030" opacity="0.85"/>
<circle cx="364.8" cy="434.3" r="1.3" fill="#303030" opacity="0.85"/>
<circle cx="362.4" cy="436.6" r="1.7" fill="#303030" opacity="0.85"/>
<circle cx="366.7" cy="438.3" r="1.2" fill="#303030" opacity="0.85"/>
<ellipse cx="390.1" cy="441.5" rx="8.075" ry="4.042" transform="rotate(-20 390.1 441.5)" fill="#6f6f6f" stroke="#484848" stroke-width="0.9"/>
<circle cx="389.8" cy="443.8" r="1.9" fill="#303030" opacity="0.85"/>
<circle cx="391.9" cy="442.9" r="1.6" fill="#303030" opacity="0.85"/>
<ellipse cx="399.3" cy="442.6" rx="1.6" ry="1.6" transform="rotate(0 399.3 442.6)" fill="#5e5e5e" stroke="#484848" stroke-width="0.9"/>
<ellipse cx="397.5" cy="447.4" rx="2.5" ry="1.5" transform="rotate(0 397.5 447.4)" fill="#5e5e5e" stroke="#484848" stroke-width="0.9"/>
<ellipse cx="403.8" cy="448.3" rx="1.5" ry="1.5" transform="rotate(0 403.8 448.3)" fill="#5e5e5e" stroke="#484848" stroke-width="0.9"/>
<rect x="346.33" y="451.61" width="35.34" height="8.77" rx="4.17" ry="4.17" transform="rotate(-18 364 456)" fill="#6f6f6f" stroke="#484848" stroke-width="0.9"/>
<circle cx="369.8" cy="453.4" r="1.8" fill="#303030" opacity="0.85"/>
<circle cx="358.7" cy="456.0" r="1.6" fill="#303030" opacity="0.85"/>
<circle cx="373.6" cy="452.5" r="1.0" fill="#303030" opacity="0.85"/>
<circle cx="358.4" cy="456.7" r="1.3" fill="#303030" opacity="0.85"/>
<rect x="354.33" y="459.48" width="35.34" height="8.04" rx="3.82" ry="3.82" transform="rotate(-10 372 463.5)" fill="#6f6f6f" stroke="#484848" stroke-width="0.9"/>
<circle cx="379.5" cy="463.3" r="1.8" fill="#303030" opacity="0.85"/>
<circle cx="378.3" cy="463.7" r="1.6" fill="#303030" opacity="0.85"/>
<circle cx="374.3" cy="464.5" r="1.4" fill="#303030" opacity="0.85"/>
<circle cx="373.2" cy="464.2" r="1.8" fill="#303030" opacity="0.85"/>
<ellipse cx="329.6" cy="474.1" rx="14.25" ry="9.459999999999999" transform="rotate(-50 329.6 474.1)" fill="#6f6f6f" stroke="#484848" stroke-width="0.9"/>
<circle cx="334.9" cy="468.4" r="1.7" fill="#303030" opacity="0.85"/>
<circle cx="329.7" cy="475.0" r="1.8" fill="#303030" opacity="0.85"/>
<circle cx="331.5" cy="479.0" r="1.3" fill="#303030" opacity="0.85"/>
<circle cx="334.3" cy="472.8" r="1.9" fill="#303030" opacity="0.85"/>
<circle cx="328.9" cy="476.0" r="1.7" fill="#303030" opacity="0.85"/>
<circle cx="333.0" cy="469.4" r="1.2" fill="#303030" opacity="0.85"/>
<circle cx="331.3" cy="466.2" r="1.6" fill="#303030" opacity="0.85"/>
<circle cx="325.7" cy="481.6" r="1.7" fill="#303030" opacity="0.85"/>
<ellipse cx="323" cy="461.5" rx="2.09" ry="2.58" transform="rotate(0 323 461.5)" fill="#6f6f6f" stroke="#484848" stroke-width="0.9"/>
<circle cx="321.8" cy="461.3" r="1.4" fill="#303030" opacity="0.85"/>
<ellipse cx="343.6" cy="473.8" rx="2" ry="2" transform="rotate(0 343.6 473.8)" fill="#5e5e5e" stroke="#484848" stroke-width="0.9"/>
<ellipse cx="349.1" cy="466.7" rx="2.5" ry="2" transform="rotate(0 349.1 466.7)" fill="#5e5e5e" stroke="#484848" stroke-width="0.9"/>
<ellipse cx="308.4" cy="473" rx="4.75" ry="5.59" transform="rotate(0 308.4 473)" fill="#6f6f6f" stroke="#484848" stroke-width="0.9"/>
<circle cx="306.2" cy="474.7" r="1.1" fill="#303030" opacity="0.85"/>
<rect x="361.61" y="468.96" width="16.79" height="6.87" rx="3.26" ry="3.26" transform="rotate(0 370 472.4)" fill="#6f6f6f" stroke="#484848" stroke-width="0.9"/>
<circle cx="369.5" cy="474.3" r="1.4" fill="#303030" opacity="0.85"/>
<rect x="387.19" y="471.24" width="15.02" height="5.12" rx="2.43" ry="2.43" transform="rotate(-20 394.7 473.8)" fill="#6f6f6f" stroke="#484848" stroke-width="0.9"/>
<circle cx="397.1" cy="474.3" r="1.0" fill="#303030" opacity="0.85"/>
<ellipse cx="407.3" cy="473.3" rx="4.2749999999999995" ry="3.44" transform="rotate(0 407.3 473.3)" fill="#6f6f6f" stroke="#484848" stroke-width="0.9"/>
<circle cx="406.5" cy="472.9" r="1.3" fill="#303030" opacity="0.85"/>
<rect x="326.08" y="480.25" width="30.04" height="9.50" rx="4.51" ry="4.51" transform="rotate(-28 341.1 485)" fill="#6f6f6f" stroke="#484848" stroke-width="0.9"/>
<circle cx="337.2" cy="487.6" r="1.8" fill="#303030" opacity="0.85"/>
<circle cx="337.8" cy="487.7" r="1.8" fill="#303030" opacity="0.85"/>
<circle cx="341.5" cy="487.5" r="1.4" fill="#303030" opacity="0.85"/>
<circle cx="345.6" cy="484.5" r="1.3" fill="#303030" opacity="0.85"/>
<ellipse cx="378.4" cy="483.3" rx="6.6499999999999995" ry="4.7299999999999995" transform="rotate(55 378.4 483.3)" fill="#6f6f6f" stroke="#484848" stroke-width="0.9"/>
<circle cx="380.2" cy="483.0" r="1.3" fill="#303030" opacity="0.85"/>
<ellipse cx="393.2" cy="487.3" rx="9.5" ry="5.59" transform="rotate(-15 393.2 487.3)" fill="#6f6f6f" stroke="#484848" stroke-width="0.9"/>
<circle cx="397.8" cy="485.5" r="1.8" fill="#303030" opacity="0.85"/>
<circle cx="389.9" cy="486.8" r="1.3" fill="#303030" opacity="0.85"/>
<circle cx="389.5" cy="488.5" r="1.7" fill="#303030" opacity="0.85"/>
<ellipse cx="365" cy="487.5" rx="8.075" ry="6.02" transform="rotate(-20 365 487.5)" fill="#6f6f6f" stroke="#484848" stroke-width="0.9"/>
<circle cx="365.0" cy="491.4" r="1.0" fill="#303030" opacity="0.85"/>
<circle cx="368.4" cy="487.2" r="1.0" fill="#303030" opacity="0.85"/>
<circle cx="369.1" cy="488.4" r="1.6" fill="#303030" opacity="0.85"/>
<ellipse cx="315.5" cy="496" rx="5.699999999999999" ry="10.32" transform="rotate(0 315.5 496)" fill="#6f6f6f" stroke="#484848" stroke-width="0.9"/>
<circle cx="317.6" cy="494.5" r="1.8" fill="#303030" opacity="0.85"/>
<circle cx="315.8" cy="497.6" r="1.9" fill="#303030" opacity="0.85"/>
<circle cx="312.9" cy="498.5" r="1.7" fill="#303030" opacity="0.85"/>
<rect x="317.62" y="508.85" width="29.16" height="7.31" rx="3.47" ry="3.47" transform="rotate(60 332.2 512.5)" fill="#6f6f6f" stroke="#484848" stroke-width="0.9"/>
<circle cx="327.8" cy="505.2" r="1.4" fill="#303030" opacity="0.85"/>
<circle cx="330.7" cy="511.1" r="1.1" fill="#303030" opacity="0.85"/>
<circle cx="330.3" cy="506.8" r="1.1" fill="#303030" opacity="0.85"/>
<ellipse cx="343.4" cy="502.5" rx="6.6499999999999995" ry="8.6" transform="rotate(10 343.4 502.5)" fill="#6f6f6f" stroke="#484848" stroke-width="0.9"/>
<circle cx="345.7" cy="505.5" r="1.1" fill="#303030" opacity="0.85"/>
<circle cx="339.9" cy="502.9" r="1.8" fill="#303030" opacity="0.85"/>
<circle cx="343.1" cy="498.2" r="1.1" fill="#303030" opacity="0.85"/>
<rect x="349.28" y="498.98" width="19.44" height="5.85" rx="2.78" ry="2.78" transform="rotate(-45 359 501.9)" fill="#6f6f6f" stroke="#484848" stroke-width="0.9"/>
<circle cx="363.1" cy="499.0" r="1.6" fill="#303030" opacity="0.85"/>
<rect x="359.48" y="504.08" width="19.44" height="5.85" rx="2.78" ry="2.78" transform="rotate(-10 369.2 507)" fill="#6f6f6f" stroke="#484848" stroke-width="0.9"/>
<circle cx="374.0" cy="505.1" r="1.8" fill="#303030" opacity="0.85"/>
<rect x="380.78" y="495.58" width="30.04" height="10.23" rx="4.86" ry="4.86" transform="rotate(-12 395.8 500.7)" fill="#6f6f6f" stroke="#484848" stroke-width="0.9"/>
<circle cx="393.1" cy="499.1" r="1.7" fill="#303030" opacity="0.85"/>
<circle cx="399.0" cy="499.6" r="1.8" fill="#303030" opacity="0.85"/>
<circle cx="396.5" cy="498.3" r="1.4" fill="#303030" opacity="0.85"/>
<circle cx="394.3" cy="499.3" r="1.1" fill="#303030" opacity="0.85"/>
<ellipse cx="321.3" cy="520.2" rx="7.6" ry="8.17" transform="rotate(-10 321.3 520.2)" fill="#6f6f6f" stroke="#484848" stroke-width="0.9"/>
<circle cx="325.5" cy="518.8" r="1.3" fill="#303030" opacity="0.85"/>
<circle cx="325.8" cy="522.0" r="1.8" fill="#303030" opacity="0.85"/>
<circle cx="323.7" cy="519.2" r="1.4" fill="#303030" opacity="0.85"/>
<rect x="345.50" y="513.25" width="37.99" height="9.50" rx="4.51" ry="4.51" transform="rotate(-10 364.5 518)" fill="#6f6f6f" stroke="#484848" stroke-width="0.9"/>
<circle cx="376.0" cy="516.6" r="1.1" fill="#303030" opacity="0.85"/>
<circle cx="357.1" cy="517.1" r="1.5" fill="#303030" opacity="0.85"/>
<circle cx="365.6" cy="518.3" r="1.3" fill="#303030" opacity="0.85"/>
<circle cx="367.3" cy="517.5" r="1.7" fill="#303030" opacity="0.85"/>
<circle cx="360.4" cy="515.8" r="1.3" fill="#303030" opacity="0.85"/>
<rect x="381.73" y="514.92" width="24.74" height="10.96" rx="5.21" ry="5.21" transform="rotate(-30 394.1 520.4)" fill="#6f6f6f" stroke="#484848" stroke-width="0.9"/>
<circle cx="393.4" cy="519.7" r="1.1" fill="#303030" opacity="0.85"/>
<circle cx="389.4" cy="523.8" r="1.4" fill="#303030" opacity="0.85"/>
<circle cx="396.0" cy="519.8" r="1.5" fill="#303030" opacity="0.85"/>
<circle cx="392.9" cy="521.0" r="1.1" fill="#303030" opacity="0.85"/>
<ellipse cx="323.9" cy="541.5" rx="11.875" ry="9.03" transform="rotate(-20 323.9 541.5)" fill="#6f6f6f" stroke="#484848" stroke-width="0.9"/>
<circle cx="327.0" cy="543.1" r="1.5" fill="#303030" opacity="0.85"/>
<circle cx="325.9" cy="544.6" r="1.2" fill="#303030" opacity="0.85"/>
<circle cx="327.7" cy="537.6" r="1.4" fill="#303030" opacity="0.85"/>
<circle cx="323.5" cy="544.0" r="1.2" fill="#303030" opacity="0.85"/>
<circle cx="323.7" cy="537.0" r="1.5" fill="#303030" opacity="0.85"/>
<circle cx="323.2" cy="544.2" r="1.3" fill="#303030" opacity="0.85"/>
<rect x="333.75" y="535.31" width="26.51" height="8.77" rx="4.17" ry="4.17" transform="rotate(35 347 539.7)" fill="#6f6f6f" stroke="#484848" stroke-width="0.9"/>
<circle cx="342.6" cy="538.0" r="1.9" fill="#303030" opacity="0.85"/>
<circle cx="345.3" cy="536.3" r="1.6" fill="#303030" opacity="0.85"/>
<circle cx="350.2" cy="539.3" r="1.3" fill="#303030" opacity="0.85"/>
<rect x="354.98" y="531.21" width="30.04" height="8.77" rx="4.17" ry="4.17" transform="rotate(3 370 535.6)" fill="#6f6f6f" stroke="#484848" stroke-width="0.9"/>
<circle cx="377.9" cy="535.6" r="1.1" fill="#303030" opacity="0.85"/>
<circle cx="364.1" cy="536.8" r="1.1" fill="#303030" opacity="0.85"/>
<circle cx="370.1" cy="535.0" r="1.1" fill="#303030" opacity="0.85"/>
<circle cx="376.6" cy="537.4" r="1.3" fill="#303030" opacity="0.85"/>
<ellipse cx="370.7" cy="551.5" rx="7.6" ry="4.7299999999999995" transform="rotate(-35 370.7 551.5)" fill="#6f6f6f" stroke="#484848" stroke-width="0.9"/>
<circle cx="369.9" cy="551.9" r="1.7" fill="#303030" opacity="0.85"/>
<circle cx="368.6" cy="552.3" r="1.8" fill="#303030" opacity="0.85"/>
<rect x="379.30" y="543.86" width="10.60" height="4.68" rx="2.22" ry="2.22" transform="rotate(-20 384.6 546.2)" fill="#6f6f6f" stroke="#484848" stroke-width="0.9"/>
<circle cx="382.9" cy="547.0" r="1.7" fill="#303030" opacity="0.85"/>
<ellipse cx="375.2" cy="498.7" rx="1.2" ry="1.2" transform="rotate(0 375.2 498.7)" fill="#5e5e5e" stroke="#484848" stroke-width="0.9"/>
<rect x="305.5" y="430.8" width="107.3" height="128.6" filter="url(#grain6)" opacity="0.3" style="mix-blend-mode:overlay"/>
</g>
<rect x="0" y="0" width="520" height="1.5" fill="#000"/><rect x="0" y="565.1" width="520" height="1.9" fill="#000"/><rect x="0" y="0" width="1.3" height="567" fill="#000"/><rect x="518.2" y="0" width="1.8" height="567" fill="#000"/>
</svg>
</body></html>
